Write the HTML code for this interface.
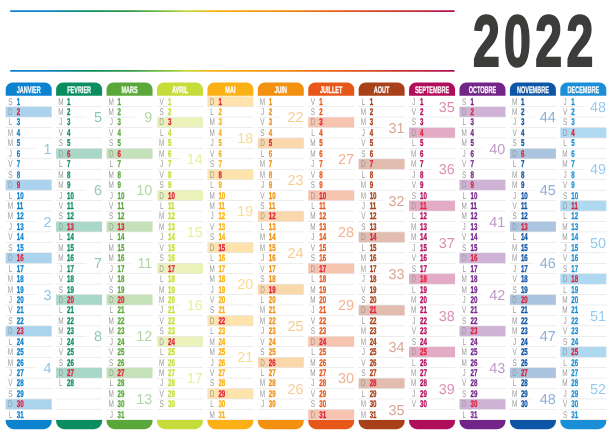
<!DOCTYPE html>
<html lang="fr"><head><meta charset="utf-8"><title>Calendrier 2022</title>
<style>html,body{margin:0;padding:0;background:#fff}svg{display:block;text-rendering:geometricPrecision}.h{font:bold 9.6px "Liberation Sans",sans-serif;fill:#fff;stroke:#fff;stroke-width:0.25px;text-anchor:middle}.l{font:9.7px "Liberation Sans",sans-serif;fill:#9b9b9b;text-anchor:middle}.n{font:bold 9.8px "Liberation Sans",sans-serif;stroke-width:0.3px}.w{font:14.4px "Liberation Sans",sans-serif;text-anchor:end}.y{font:bold 72.5px "Liberation Sans",sans-serif;fill:#3c3c3b;stroke:#3c3c3b;stroke-width:2.2px;stroke-linejoin:miter;text-anchor:middle}</style></head><body>
<svg width="612" height="435" viewBox="0 0 612 435">
<defs><linearGradient id="g" x1="0" y1="0" x2="1" y2="0"><stop offset="0" stop-color="#0d82cf"/><stop offset="0.07" stop-color="#0d82cf"/><stop offset="0.18" stop-color="#0a8e60"/><stop offset="0.27" stop-color="#2f9a48"/><stop offset="0.36" stop-color="#8cc63f"/><stop offset="0.40" stop-color="#c5dc3a"/><stop offset="0.46" stop-color="#fbb015"/><stop offset="0.60" stop-color="#f39010"/><stop offset="0.75" stop-color="#e8571a"/><stop offset="0.87" stop-color="#c93a2a"/><stop offset="1" stop-color="#b00d5a"/></linearGradient><linearGradient id="fw" x1="0" y1="0" x2="1" y2="0"><stop offset="0" stop-color="#fff" stop-opacity="0"/><stop offset="0.35" stop-color="#fff"/><stop offset="1" stop-color="#fff"/></linearGradient></defs>
<rect width="612" height="435" fill="#fff"/>
<rect x="10" y="10.3" width="444.8" height="1.8" rx="0.9" fill="url(#g)"/>
<rect x="10" y="69.9" width="444.8" height="1.8" rx="0.9" fill="url(#g)"/>
<text class="y" transform="translate(0,65.9) scale(0.665,1)"><tspan x="731.43">2</tspan><tspan x="778.2">0</tspan><tspan x="825.11">2</tspan><tspan x="872.18">2</tspan></text>
<path d="M5.7 95.8 V89.4 A7 7 0 0 1 12.7 82.4 H44.7 A7 7 0 0 1 51.7 89.4 V95.8 Z" fill="#0d82cf"/>
<text class="h" transform="translate(28.7,92.7) scale(0.575,1)">JANVIER</text>
<rect x="5.7" y="106.84" width="46" height="10.14" fill="#0d82cf" fill-opacity="0.35"/>
<rect x="5.7" y="179.92" width="46" height="10.14" fill="#0d82cf" fill-opacity="0.35"/>
<rect x="5.7" y="253" width="46" height="10.14" fill="#0d82cf" fill-opacity="0.35"/>
<rect x="5.7" y="326.08" width="46" height="10.14" fill="#0d82cf" fill-opacity="0.35"/>
<rect x="5.7" y="399.16" width="46" height="10.14" fill="#0d82cf" fill-opacity="0.35"/>
<rect x="5.7" y="106.39" width="46" height="0.5" fill="#d9d9d9"/>
<rect x="5.7" y="116.83" width="46" height="0.5" fill="#d9d9d9"/>
<rect x="5.7" y="127.27" width="46" height="0.5" fill="#d9d9d9"/>
<rect x="5.7" y="137.71" width="46" height="0.5" fill="#d9d9d9"/>
<rect x="5.7" y="148.15" width="46" height="0.5" fill="#d9d9d9"/>
<rect x="5.7" y="158.59" width="46" height="0.5" fill="#d9d9d9"/>
<rect x="5.7" y="169.03" width="46" height="0.5" fill="#d9d9d9"/>
<rect x="5.7" y="179.47" width="46" height="0.5" fill="#d9d9d9"/>
<rect x="5.7" y="189.91" width="46" height="0.5" fill="#d9d9d9"/>
<rect x="5.7" y="200.35" width="46" height="0.5" fill="#d9d9d9"/>
<rect x="5.7" y="210.79" width="46" height="0.5" fill="#d9d9d9"/>
<rect x="5.7" y="221.23" width="46" height="0.5" fill="#d9d9d9"/>
<rect x="5.7" y="231.67" width="46" height="0.5" fill="#d9d9d9"/>
<rect x="5.7" y="242.11" width="46" height="0.5" fill="#d9d9d9"/>
<rect x="5.7" y="252.55" width="46" height="0.5" fill="#d9d9d9"/>
<rect x="5.7" y="262.99" width="46" height="0.5" fill="#d9d9d9"/>
<rect x="5.7" y="273.43" width="46" height="0.5" fill="#d9d9d9"/>
<rect x="5.7" y="283.87" width="46" height="0.5" fill="#d9d9d9"/>
<rect x="5.7" y="294.31" width="46" height="0.5" fill="#d9d9d9"/>
<rect x="5.7" y="304.75" width="46" height="0.5" fill="#d9d9d9"/>
<rect x="5.7" y="315.19" width="46" height="0.5" fill="#d9d9d9"/>
<rect x="5.7" y="325.63" width="46" height="0.5" fill="#d9d9d9"/>
<rect x="5.7" y="336.07" width="46" height="0.5" fill="#d9d9d9"/>
<rect x="5.7" y="346.51" width="46" height="0.5" fill="#d9d9d9"/>
<rect x="5.7" y="356.95" width="46" height="0.5" fill="#d9d9d9"/>
<rect x="5.7" y="367.39" width="46" height="0.5" fill="#d9d9d9"/>
<rect x="5.7" y="377.83" width="46" height="0.5" fill="#d9d9d9"/>
<rect x="5.7" y="388.27" width="46" height="0.5" fill="#d9d9d9"/>
<rect x="5.7" y="398.71" width="46" height="0.5" fill="#d9d9d9"/>
<rect x="5.7" y="409.15" width="46" height="0.5" fill="#d9d9d9"/>
<rect x="5.7" y="419.59" width="46" height="0.5" fill="#d9d9d9"/>
<rect x="31.7" y="146.9" width="20" height="3" fill="url(#fw)"/>
<text class="w" x="51.5" y="153.55" fill="#0d82cf" fill-opacity="0.47">1</text>
<rect x="31.7" y="219.98" width="20" height="3" fill="url(#fw)"/>
<text class="w" x="51.5" y="226.63" fill="#0d82cf" fill-opacity="0.47">2</text>
<rect x="31.7" y="293.06" width="20" height="3" fill="url(#fw)"/>
<text class="w" x="51.5" y="299.71" fill="#0d82cf" fill-opacity="0.47">3</text>
<rect x="31.7" y="366.14" width="20" height="3" fill="url(#fw)"/>
<text class="w" x="51.5" y="372.79" fill="#0d82cf" fill-opacity="0.47">4</text>
<text class="l" transform="translate(10.4,104.6) scale(0.66,1)">S</text><text class="n" transform="translate(16.7,104.6) scale(0.63,1)" fill="#0d82cf" stroke="#0d82cf">1</text>
<text class="l" transform="translate(10.4,115.04) scale(0.66,1)">D</text><text class="n" transform="translate(16.7,115.04) scale(0.63,1)" fill="#e0213c" stroke="#e0213c">2</text>
<text class="l" transform="translate(10.4,125.48) scale(0.66,1)">L</text><text class="n" transform="translate(16.7,125.48) scale(0.63,1)" fill="#0d82cf" stroke="#0d82cf">3</text>
<text class="l" transform="translate(10.4,135.92) scale(0.66,1)">M</text><text class="n" transform="translate(16.7,135.92) scale(0.63,1)" fill="#0d82cf" stroke="#0d82cf">4</text>
<text class="l" transform="translate(10.4,146.36) scale(0.66,1)">M</text><text class="n" transform="translate(16.7,146.36) scale(0.63,1)" fill="#0d82cf" stroke="#0d82cf">5</text>
<text class="l" transform="translate(10.4,156.8) scale(0.66,1)">J</text><text class="n" transform="translate(16.7,156.8) scale(0.63,1)" fill="#0d82cf" stroke="#0d82cf">6</text>
<text class="l" transform="translate(10.4,167.24) scale(0.66,1)">V</text><text class="n" transform="translate(16.7,167.24) scale(0.63,1)" fill="#0d82cf" stroke="#0d82cf">7</text>
<text class="l" transform="translate(10.4,177.68) scale(0.66,1)">S</text><text class="n" transform="translate(16.7,177.68) scale(0.63,1)" fill="#0d82cf" stroke="#0d82cf">8</text>
<text class="l" transform="translate(10.4,188.12) scale(0.66,1)">D</text><text class="n" transform="translate(16.7,188.12) scale(0.63,1)" fill="#e0213c" stroke="#e0213c">9</text>
<text class="l" transform="translate(10.4,198.56) scale(0.66,1)">L</text><text class="n" transform="translate(16.7,198.56) scale(0.63,1)" fill="#0d82cf" stroke="#0d82cf">10</text>
<text class="l" transform="translate(10.4,209) scale(0.66,1)">M</text><text class="n" transform="translate(16.7,209) scale(0.63,1)" fill="#0d82cf" stroke="#0d82cf">11</text>
<text class="l" transform="translate(10.4,219.44) scale(0.66,1)">M</text><text class="n" transform="translate(16.7,219.44) scale(0.63,1)" fill="#0d82cf" stroke="#0d82cf">12</text>
<text class="l" transform="translate(10.4,229.88) scale(0.66,1)">J</text><text class="n" transform="translate(16.7,229.88) scale(0.63,1)" fill="#0d82cf" stroke="#0d82cf">13</text>
<text class="l" transform="translate(10.4,240.32) scale(0.66,1)">V</text><text class="n" transform="translate(16.7,240.32) scale(0.63,1)" fill="#0d82cf" stroke="#0d82cf">14</text>
<text class="l" transform="translate(10.4,250.76) scale(0.66,1)">S</text><text class="n" transform="translate(16.7,250.76) scale(0.63,1)" fill="#0d82cf" stroke="#0d82cf">15</text>
<text class="l" transform="translate(10.4,261.2) scale(0.66,1)">D</text><text class="n" transform="translate(16.7,261.2) scale(0.63,1)" fill="#e0213c" stroke="#e0213c">16</text>
<text class="l" transform="translate(10.4,271.64) scale(0.66,1)">L</text><text class="n" transform="translate(16.7,271.64) scale(0.63,1)" fill="#0d82cf" stroke="#0d82cf">17</text>
<text class="l" transform="translate(10.4,282.08) scale(0.66,1)">M</text><text class="n" transform="translate(16.7,282.08) scale(0.63,1)" fill="#0d82cf" stroke="#0d82cf">18</text>
<text class="l" transform="translate(10.4,292.52) scale(0.66,1)">M</text><text class="n" transform="translate(16.7,292.52) scale(0.63,1)" fill="#0d82cf" stroke="#0d82cf">19</text>
<text class="l" transform="translate(10.4,302.96) scale(0.66,1)">J</text><text class="n" transform="translate(16.7,302.96) scale(0.63,1)" fill="#0d82cf" stroke="#0d82cf">20</text>
<text class="l" transform="translate(10.4,313.4) scale(0.66,1)">V</text><text class="n" transform="translate(16.7,313.4) scale(0.63,1)" fill="#0d82cf" stroke="#0d82cf">21</text>
<text class="l" transform="translate(10.4,323.84) scale(0.66,1)">S</text><text class="n" transform="translate(16.7,323.84) scale(0.63,1)" fill="#0d82cf" stroke="#0d82cf">22</text>
<text class="l" transform="translate(10.4,334.28) scale(0.66,1)">D</text><text class="n" transform="translate(16.7,334.28) scale(0.63,1)" fill="#e0213c" stroke="#e0213c">23</text>
<text class="l" transform="translate(10.4,344.72) scale(0.66,1)">L</text><text class="n" transform="translate(16.7,344.72) scale(0.63,1)" fill="#0d82cf" stroke="#0d82cf">24</text>
<text class="l" transform="translate(10.4,355.16) scale(0.66,1)">M</text><text class="n" transform="translate(16.7,355.16) scale(0.63,1)" fill="#0d82cf" stroke="#0d82cf">25</text>
<text class="l" transform="translate(10.4,365.6) scale(0.66,1)">M</text><text class="n" transform="translate(16.7,365.6) scale(0.63,1)" fill="#0d82cf" stroke="#0d82cf">26</text>
<text class="l" transform="translate(10.4,376.04) scale(0.66,1)">J</text><text class="n" transform="translate(16.7,376.04) scale(0.63,1)" fill="#0d82cf" stroke="#0d82cf">27</text>
<text class="l" transform="translate(10.4,386.48) scale(0.66,1)">V</text><text class="n" transform="translate(16.7,386.48) scale(0.63,1)" fill="#0d82cf" stroke="#0d82cf">28</text>
<text class="l" transform="translate(10.4,396.92) scale(0.66,1)">S</text><text class="n" transform="translate(16.7,396.92) scale(0.63,1)" fill="#0d82cf" stroke="#0d82cf">29</text>
<text class="l" transform="translate(10.4,407.36) scale(0.66,1)">D</text><text class="n" transform="translate(16.7,407.36) scale(0.63,1)" fill="#e0213c" stroke="#e0213c">30</text>
<text class="l" transform="translate(10.4,417.8) scale(0.66,1)">L</text><text class="n" transform="translate(16.7,417.8) scale(0.63,1)" fill="#0d82cf" stroke="#0d82cf">31</text>
<path d="M5.7 420 H51.7 V421.2 A8 8 0 0 1 43.7 429.2 H13.7 A8 8 0 0 1 5.7 421.2 Z" fill="#0d82cf"/>
</g>
<path d="M56.12 95.8 V89.4 A7 7 0 0 1 63.12 82.4 H95.12 A7 7 0 0 1 102.12 89.4 V95.8 Z" fill="#0a8e60"/>
<text class="h" transform="translate(79.12,92.7) scale(0.575,1)">FEVRIER</text>
<rect x="56.12" y="148.6" width="46" height="10.14" fill="#0a8e60" fill-opacity="0.35"/>
<rect x="56.12" y="221.68" width="46" height="10.14" fill="#0a8e60" fill-opacity="0.35"/>
<rect x="56.12" y="294.76" width="46" height="10.14" fill="#0a8e60" fill-opacity="0.35"/>
<rect x="56.12" y="367.84" width="46" height="10.14" fill="#0a8e60" fill-opacity="0.35"/>
<rect x="56.12" y="106.39" width="46" height="0.5" fill="#d9d9d9"/>
<rect x="56.12" y="116.83" width="46" height="0.5" fill="#d9d9d9"/>
<rect x="56.12" y="127.27" width="46" height="0.5" fill="#d9d9d9"/>
<rect x="56.12" y="137.71" width="46" height="0.5" fill="#d9d9d9"/>
<rect x="56.12" y="148.15" width="46" height="0.5" fill="#d9d9d9"/>
<rect x="56.12" y="158.59" width="46" height="0.5" fill="#d9d9d9"/>
<rect x="56.12" y="169.03" width="46" height="0.5" fill="#d9d9d9"/>
<rect x="56.12" y="179.47" width="46" height="0.5" fill="#d9d9d9"/>
<rect x="56.12" y="189.91" width="46" height="0.5" fill="#d9d9d9"/>
<rect x="56.12" y="200.35" width="46" height="0.5" fill="#d9d9d9"/>
<rect x="56.12" y="210.79" width="46" height="0.5" fill="#d9d9d9"/>
<rect x="56.12" y="221.23" width="46" height="0.5" fill="#d9d9d9"/>
<rect x="56.12" y="231.67" width="46" height="0.5" fill="#d9d9d9"/>
<rect x="56.12" y="242.11" width="46" height="0.5" fill="#d9d9d9"/>
<rect x="56.12" y="252.55" width="46" height="0.5" fill="#d9d9d9"/>
<rect x="56.12" y="262.99" width="46" height="0.5" fill="#d9d9d9"/>
<rect x="56.12" y="273.43" width="46" height="0.5" fill="#d9d9d9"/>
<rect x="56.12" y="283.87" width="46" height="0.5" fill="#d9d9d9"/>
<rect x="56.12" y="294.31" width="46" height="0.5" fill="#d9d9d9"/>
<rect x="56.12" y="304.75" width="46" height="0.5" fill="#d9d9d9"/>
<rect x="56.12" y="315.19" width="46" height="0.5" fill="#d9d9d9"/>
<rect x="56.12" y="325.63" width="46" height="0.5" fill="#d9d9d9"/>
<rect x="56.12" y="336.07" width="46" height="0.5" fill="#d9d9d9"/>
<rect x="56.12" y="346.51" width="46" height="0.5" fill="#d9d9d9"/>
<rect x="56.12" y="356.95" width="46" height="0.5" fill="#d9d9d9"/>
<rect x="56.12" y="367.39" width="46" height="0.5" fill="#d9d9d9"/>
<rect x="56.12" y="377.83" width="46" height="0.5" fill="#d9d9d9"/>
<rect x="56.12" y="388.27" width="46" height="0.5" fill="#d9d9d9"/>
<rect x="56.12" y="398.71" width="46" height="0.5" fill="#d9d9d9"/>
<rect x="56.12" y="409.15" width="46" height="0.5" fill="#d9d9d9"/>
<rect x="56.12" y="419.59" width="46" height="0.5" fill="#d9d9d9"/>
<rect x="82.12" y="115.58" width="20" height="3" fill="url(#fw)"/>
<text class="w" x="101.92" y="122.23" fill="#0a8e60" fill-opacity="0.47">5</text>
<rect x="82.12" y="188.66" width="20" height="3" fill="url(#fw)"/>
<text class="w" x="101.92" y="195.31" fill="#0a8e60" fill-opacity="0.47">6</text>
<rect x="82.12" y="261.74" width="20" height="3" fill="url(#fw)"/>
<text class="w" x="101.92" y="268.39" fill="#0a8e60" fill-opacity="0.47">7</text>
<rect x="82.12" y="334.82" width="20" height="3" fill="url(#fw)"/>
<text class="w" x="101.92" y="341.47" fill="#0a8e60" fill-opacity="0.47">8</text>
<text class="l" transform="translate(60.82,104.6) scale(0.66,1)">M</text><text class="n" transform="translate(67.12,104.6) scale(0.63,1)" fill="#0a8e60" stroke="#0a8e60">1</text>
<text class="l" transform="translate(60.82,115.04) scale(0.66,1)">M</text><text class="n" transform="translate(67.12,115.04) scale(0.63,1)" fill="#0a8e60" stroke="#0a8e60">2</text>
<text class="l" transform="translate(60.82,125.48) scale(0.66,1)">J</text><text class="n" transform="translate(67.12,125.48) scale(0.63,1)" fill="#0a8e60" stroke="#0a8e60">3</text>
<text class="l" transform="translate(60.82,135.92) scale(0.66,1)">V</text><text class="n" transform="translate(67.12,135.92) scale(0.63,1)" fill="#0a8e60" stroke="#0a8e60">4</text>
<text class="l" transform="translate(60.82,146.36) scale(0.66,1)">S</text><text class="n" transform="translate(67.12,146.36) scale(0.63,1)" fill="#0a8e60" stroke="#0a8e60">5</text>
<text class="l" transform="translate(60.82,156.8) scale(0.66,1)">D</text><text class="n" transform="translate(67.12,156.8) scale(0.63,1)" fill="#e0213c" stroke="#e0213c">6</text>
<text class="l" transform="translate(60.82,167.24) scale(0.66,1)">L</text><text class="n" transform="translate(67.12,167.24) scale(0.63,1)" fill="#0a8e60" stroke="#0a8e60">7</text>
<text class="l" transform="translate(60.82,177.68) scale(0.66,1)">M</text><text class="n" transform="translate(67.12,177.68) scale(0.63,1)" fill="#0a8e60" stroke="#0a8e60">8</text>
<text class="l" transform="translate(60.82,188.12) scale(0.66,1)">M</text><text class="n" transform="translate(67.12,188.12) scale(0.63,1)" fill="#0a8e60" stroke="#0a8e60">9</text>
<text class="l" transform="translate(60.82,198.56) scale(0.66,1)">J</text><text class="n" transform="translate(67.12,198.56) scale(0.63,1)" fill="#0a8e60" stroke="#0a8e60">10</text>
<text class="l" transform="translate(60.82,209) scale(0.66,1)">V</text><text class="n" transform="translate(67.12,209) scale(0.63,1)" fill="#0a8e60" stroke="#0a8e60">11</text>
<text class="l" transform="translate(60.82,219.44) scale(0.66,1)">S</text><text class="n" transform="translate(67.12,219.44) scale(0.63,1)" fill="#0a8e60" stroke="#0a8e60">12</text>
<text class="l" transform="translate(60.82,229.88) scale(0.66,1)">D</text><text class="n" transform="translate(67.12,229.88) scale(0.63,1)" fill="#e0213c" stroke="#e0213c">13</text>
<text class="l" transform="translate(60.82,240.32) scale(0.66,1)">L</text><text class="n" transform="translate(67.12,240.32) scale(0.63,1)" fill="#0a8e60" stroke="#0a8e60">14</text>
<text class="l" transform="translate(60.82,250.76) scale(0.66,1)">M</text><text class="n" transform="translate(67.12,250.76) scale(0.63,1)" fill="#0a8e60" stroke="#0a8e60">15</text>
<text class="l" transform="translate(60.82,261.2) scale(0.66,1)">M</text><text class="n" transform="translate(67.12,261.2) scale(0.63,1)" fill="#0a8e60" stroke="#0a8e60">16</text>
<text class="l" transform="translate(60.82,271.64) scale(0.66,1)">J</text><text class="n" transform="translate(67.12,271.64) scale(0.63,1)" fill="#0a8e60" stroke="#0a8e60">17</text>
<text class="l" transform="translate(60.82,282.08) scale(0.66,1)">V</text><text class="n" transform="translate(67.12,282.08) scale(0.63,1)" fill="#0a8e60" stroke="#0a8e60">18</text>
<text class="l" transform="translate(60.82,292.52) scale(0.66,1)">S</text><text class="n" transform="translate(67.12,292.52) scale(0.63,1)" fill="#0a8e60" stroke="#0a8e60">19</text>
<text class="l" transform="translate(60.82,302.96) scale(0.66,1)">D</text><text class="n" transform="translate(67.12,302.96) scale(0.63,1)" fill="#e0213c" stroke="#e0213c">20</text>
<text class="l" transform="translate(60.82,313.4) scale(0.66,1)">L</text><text class="n" transform="translate(67.12,313.4) scale(0.63,1)" fill="#0a8e60" stroke="#0a8e60">21</text>
<text class="l" transform="translate(60.82,323.84) scale(0.66,1)">M</text><text class="n" transform="translate(67.12,323.84) scale(0.63,1)" fill="#0a8e60" stroke="#0a8e60">22</text>
<text class="l" transform="translate(60.82,334.28) scale(0.66,1)">M</text><text class="n" transform="translate(67.12,334.28) scale(0.63,1)" fill="#0a8e60" stroke="#0a8e60">23</text>
<text class="l" transform="translate(60.82,344.72) scale(0.66,1)">J</text><text class="n" transform="translate(67.12,344.72) scale(0.63,1)" fill="#0a8e60" stroke="#0a8e60">24</text>
<text class="l" transform="translate(60.82,355.16) scale(0.66,1)">V</text><text class="n" transform="translate(67.12,355.16) scale(0.63,1)" fill="#0a8e60" stroke="#0a8e60">25</text>
<text class="l" transform="translate(60.82,365.6) scale(0.66,1)">S</text><text class="n" transform="translate(67.12,365.6) scale(0.63,1)" fill="#0a8e60" stroke="#0a8e60">26</text>
<text class="l" transform="translate(60.82,376.04) scale(0.66,1)">D</text><text class="n" transform="translate(67.12,376.04) scale(0.63,1)" fill="#e0213c" stroke="#e0213c">27</text>
<text class="l" transform="translate(60.82,386.48) scale(0.66,1)">L</text><text class="n" transform="translate(67.12,386.48) scale(0.63,1)" fill="#0a8e60" stroke="#0a8e60">28</text>
<path d="M56.12 420 H102.12 V421.2 A8 8 0 0 1 94.12 429.2 H64.12 A8 8 0 0 1 56.12 421.2 Z" fill="#0a8e60"/>
</g>
<path d="M106.54 95.8 V89.4 A7 7 0 0 1 113.54 82.4 H145.54 A7 7 0 0 1 152.54 89.4 V95.8 Z" fill="#5aa83a"/>
<text class="h" transform="translate(129.54,92.7) scale(0.575,1)">MARS</text>
<rect x="106.54" y="148.6" width="46" height="10.14" fill="#5aa83a" fill-opacity="0.35"/>
<rect x="106.54" y="221.68" width="46" height="10.14" fill="#5aa83a" fill-opacity="0.35"/>
<rect x="106.54" y="294.76" width="46" height="10.14" fill="#5aa83a" fill-opacity="0.35"/>
<rect x="106.54" y="367.84" width="46" height="10.14" fill="#5aa83a" fill-opacity="0.35"/>
<rect x="106.54" y="106.39" width="46" height="0.5" fill="#d9d9d9"/>
<rect x="106.54" y="116.83" width="46" height="0.5" fill="#d9d9d9"/>
<rect x="106.54" y="127.27" width="46" height="0.5" fill="#d9d9d9"/>
<rect x="106.54" y="137.71" width="46" height="0.5" fill="#d9d9d9"/>
<rect x="106.54" y="148.15" width="46" height="0.5" fill="#d9d9d9"/>
<rect x="106.54" y="158.59" width="46" height="0.5" fill="#d9d9d9"/>
<rect x="106.54" y="169.03" width="46" height="0.5" fill="#d9d9d9"/>
<rect x="106.54" y="179.47" width="46" height="0.5" fill="#d9d9d9"/>
<rect x="106.54" y="189.91" width="46" height="0.5" fill="#d9d9d9"/>
<rect x="106.54" y="200.35" width="46" height="0.5" fill="#d9d9d9"/>
<rect x="106.54" y="210.79" width="46" height="0.5" fill="#d9d9d9"/>
<rect x="106.54" y="221.23" width="46" height="0.5" fill="#d9d9d9"/>
<rect x="106.54" y="231.67" width="46" height="0.5" fill="#d9d9d9"/>
<rect x="106.54" y="242.11" width="46" height="0.5" fill="#d9d9d9"/>
<rect x="106.54" y="252.55" width="46" height="0.5" fill="#d9d9d9"/>
<rect x="106.54" y="262.99" width="46" height="0.5" fill="#d9d9d9"/>
<rect x="106.54" y="273.43" width="46" height="0.5" fill="#d9d9d9"/>
<rect x="106.54" y="283.87" width="46" height="0.5" fill="#d9d9d9"/>
<rect x="106.54" y="294.31" width="46" height="0.5" fill="#d9d9d9"/>
<rect x="106.54" y="304.75" width="46" height="0.5" fill="#d9d9d9"/>
<rect x="106.54" y="315.19" width="46" height="0.5" fill="#d9d9d9"/>
<rect x="106.54" y="325.63" width="46" height="0.5" fill="#d9d9d9"/>
<rect x="106.54" y="336.07" width="46" height="0.5" fill="#d9d9d9"/>
<rect x="106.54" y="346.51" width="46" height="0.5" fill="#d9d9d9"/>
<rect x="106.54" y="356.95" width="46" height="0.5" fill="#d9d9d9"/>
<rect x="106.54" y="367.39" width="46" height="0.5" fill="#d9d9d9"/>
<rect x="106.54" y="377.83" width="46" height="0.5" fill="#d9d9d9"/>
<rect x="106.54" y="388.27" width="46" height="0.5" fill="#d9d9d9"/>
<rect x="106.54" y="398.71" width="46" height="0.5" fill="#d9d9d9"/>
<rect x="106.54" y="409.15" width="46" height="0.5" fill="#d9d9d9"/>
<rect x="106.54" y="419.59" width="46" height="0.5" fill="#d9d9d9"/>
<rect x="132.54" y="115.58" width="20" height="3" fill="url(#fw)"/>
<text class="w" x="152.34" y="122.23" fill="#5aa83a" fill-opacity="0.47">9</text>
<rect x="124.54" y="188.66" width="28" height="3" fill="url(#fw)"/>
<text class="w" x="152.34" y="195.31" fill="#5aa83a" fill-opacity="0.47">10</text>
<rect x="124.54" y="261.74" width="28" height="3" fill="url(#fw)"/>
<text class="w" x="152.34" y="268.39" fill="#5aa83a" fill-opacity="0.47">11</text>
<rect x="124.54" y="334.82" width="28" height="3" fill="url(#fw)"/>
<text class="w" x="152.34" y="341.47" fill="#5aa83a" fill-opacity="0.47">12</text>
<rect x="124.54" y="397.46" width="28" height="3" fill="url(#fw)"/>
<text class="w" x="152.34" y="404.11" fill="#5aa83a" fill-opacity="0.47">13</text>
<text class="l" transform="translate(111.24,104.6) scale(0.66,1)">M</text><text class="n" transform="translate(117.54,104.6) scale(0.63,1)" fill="#5aa83a" stroke="#5aa83a">1</text>
<text class="l" transform="translate(111.24,115.04) scale(0.66,1)">M</text><text class="n" transform="translate(117.54,115.04) scale(0.63,1)" fill="#5aa83a" stroke="#5aa83a">2</text>
<text class="l" transform="translate(111.24,125.48) scale(0.66,1)">J</text><text class="n" transform="translate(117.54,125.48) scale(0.63,1)" fill="#5aa83a" stroke="#5aa83a">3</text>
<text class="l" transform="translate(111.24,135.92) scale(0.66,1)">V</text><text class="n" transform="translate(117.54,135.92) scale(0.63,1)" fill="#5aa83a" stroke="#5aa83a">4</text>
<text class="l" transform="translate(111.24,146.36) scale(0.66,1)">S</text><text class="n" transform="translate(117.54,146.36) scale(0.63,1)" fill="#5aa83a" stroke="#5aa83a">5</text>
<text class="l" transform="translate(111.24,156.8) scale(0.66,1)">D</text><text class="n" transform="translate(117.54,156.8) scale(0.63,1)" fill="#e0213c" stroke="#e0213c">6</text>
<text class="l" transform="translate(111.24,167.24) scale(0.66,1)">L</text><text class="n" transform="translate(117.54,167.24) scale(0.63,1)" fill="#5aa83a" stroke="#5aa83a">7</text>
<text class="l" transform="translate(111.24,177.68) scale(0.66,1)">M</text><text class="n" transform="translate(117.54,177.68) scale(0.63,1)" fill="#5aa83a" stroke="#5aa83a">8</text>
<text class="l" transform="translate(111.24,188.12) scale(0.66,1)">M</text><text class="n" transform="translate(117.54,188.12) scale(0.63,1)" fill="#5aa83a" stroke="#5aa83a">9</text>
<text class="l" transform="translate(111.24,198.56) scale(0.66,1)">J</text><text class="n" transform="translate(117.54,198.56) scale(0.63,1)" fill="#5aa83a" stroke="#5aa83a">10</text>
<text class="l" transform="translate(111.24,209) scale(0.66,1)">V</text><text class="n" transform="translate(117.54,209) scale(0.63,1)" fill="#5aa83a" stroke="#5aa83a">11</text>
<text class="l" transform="translate(111.24,219.44) scale(0.66,1)">S</text><text class="n" transform="translate(117.54,219.44) scale(0.63,1)" fill="#5aa83a" stroke="#5aa83a">12</text>
<text class="l" transform="translate(111.24,229.88) scale(0.66,1)">D</text><text class="n" transform="translate(117.54,229.88) scale(0.63,1)" fill="#e0213c" stroke="#e0213c">13</text>
<text class="l" transform="translate(111.24,240.32) scale(0.66,1)">L</text><text class="n" transform="translate(117.54,240.32) scale(0.63,1)" fill="#5aa83a" stroke="#5aa83a">14</text>
<text class="l" transform="translate(111.24,250.76) scale(0.66,1)">M</text><text class="n" transform="translate(117.54,250.76) scale(0.63,1)" fill="#5aa83a" stroke="#5aa83a">15</text>
<text class="l" transform="translate(111.24,261.2) scale(0.66,1)">M</text><text class="n" transform="translate(117.54,261.2) scale(0.63,1)" fill="#5aa83a" stroke="#5aa83a">16</text>
<text class="l" transform="translate(111.24,271.64) scale(0.66,1)">J</text><text class="n" transform="translate(117.54,271.64) scale(0.63,1)" fill="#5aa83a" stroke="#5aa83a">17</text>
<text class="l" transform="translate(111.24,282.08) scale(0.66,1)">V</text><text class="n" transform="translate(117.54,282.08) scale(0.63,1)" fill="#5aa83a" stroke="#5aa83a">18</text>
<text class="l" transform="translate(111.24,292.52) scale(0.66,1)">S</text><text class="n" transform="translate(117.54,292.52) scale(0.63,1)" fill="#5aa83a" stroke="#5aa83a">19</text>
<text class="l" transform="translate(111.24,302.96) scale(0.66,1)">D</text><text class="n" transform="translate(117.54,302.96) scale(0.63,1)" fill="#e0213c" stroke="#e0213c">20</text>
<text class="l" transform="translate(111.24,313.4) scale(0.66,1)">L</text><text class="n" transform="translate(117.54,313.4) scale(0.63,1)" fill="#5aa83a" stroke="#5aa83a">21</text>
<text class="l" transform="translate(111.24,323.84) scale(0.66,1)">M</text><text class="n" transform="translate(117.54,323.84) scale(0.63,1)" fill="#5aa83a" stroke="#5aa83a">22</text>
<text class="l" transform="translate(111.24,334.28) scale(0.66,1)">M</text><text class="n" transform="translate(117.54,334.28) scale(0.63,1)" fill="#5aa83a" stroke="#5aa83a">23</text>
<text class="l" transform="translate(111.24,344.72) scale(0.66,1)">J</text><text class="n" transform="translate(117.54,344.72) scale(0.63,1)" fill="#5aa83a" stroke="#5aa83a">24</text>
<text class="l" transform="translate(111.24,355.16) scale(0.66,1)">V</text><text class="n" transform="translate(117.54,355.16) scale(0.63,1)" fill="#5aa83a" stroke="#5aa83a">25</text>
<text class="l" transform="translate(111.24,365.6) scale(0.66,1)">S</text><text class="n" transform="translate(117.54,365.6) scale(0.63,1)" fill="#5aa83a" stroke="#5aa83a">26</text>
<text class="l" transform="translate(111.24,376.04) scale(0.66,1)">D</text><text class="n" transform="translate(117.54,376.04) scale(0.63,1)" fill="#e0213c" stroke="#e0213c">27</text>
<text class="l" transform="translate(111.24,386.48) scale(0.66,1)">L</text><text class="n" transform="translate(117.54,386.48) scale(0.63,1)" fill="#5aa83a" stroke="#5aa83a">28</text>
<text class="l" transform="translate(111.24,396.92) scale(0.66,1)">M</text><text class="n" transform="translate(117.54,396.92) scale(0.63,1)" fill="#5aa83a" stroke="#5aa83a">29</text>
<text class="l" transform="translate(111.24,407.36) scale(0.66,1)">M</text><text class="n" transform="translate(117.54,407.36) scale(0.63,1)" fill="#5aa83a" stroke="#5aa83a">30</text>
<text class="l" transform="translate(111.24,417.8) scale(0.66,1)">J</text><text class="n" transform="translate(117.54,417.8) scale(0.63,1)" fill="#5aa83a" stroke="#5aa83a">31</text>
<path d="M106.54 420 H152.54 V421.2 A8 8 0 0 1 144.54 429.2 H114.54 A8 8 0 0 1 106.54 421.2 Z" fill="#5aa83a"/>
</g>
<path d="M156.96 95.8 V89.4 A7 7 0 0 1 163.96 82.4 H195.96 A7 7 0 0 1 202.96 89.4 V95.8 Z" fill="#c5dc3a"/>
<text class="h" transform="translate(179.96,92.7) scale(0.575,1)">AVRIL</text>
<rect x="156.96" y="117.28" width="46" height="10.14" fill="#c5dc3a" fill-opacity="0.35"/>
<rect x="156.96" y="190.36" width="46" height="10.14" fill="#c5dc3a" fill-opacity="0.35"/>
<rect x="156.96" y="263.44" width="46" height="10.14" fill="#c5dc3a" fill-opacity="0.35"/>
<rect x="156.96" y="336.52" width="46" height="10.14" fill="#c5dc3a" fill-opacity="0.35"/>
<rect x="156.96" y="106.39" width="46" height="0.5" fill="#d9d9d9"/>
<rect x="156.96" y="116.83" width="46" height="0.5" fill="#d9d9d9"/>
<rect x="156.96" y="127.27" width="46" height="0.5" fill="#d9d9d9"/>
<rect x="156.96" y="137.71" width="46" height="0.5" fill="#d9d9d9"/>
<rect x="156.96" y="148.15" width="46" height="0.5" fill="#d9d9d9"/>
<rect x="156.96" y="158.59" width="46" height="0.5" fill="#d9d9d9"/>
<rect x="156.96" y="169.03" width="46" height="0.5" fill="#d9d9d9"/>
<rect x="156.96" y="179.47" width="46" height="0.5" fill="#d9d9d9"/>
<rect x="156.96" y="189.91" width="46" height="0.5" fill="#d9d9d9"/>
<rect x="156.96" y="200.35" width="46" height="0.5" fill="#d9d9d9"/>
<rect x="156.96" y="210.79" width="46" height="0.5" fill="#d9d9d9"/>
<rect x="156.96" y="221.23" width="46" height="0.5" fill="#d9d9d9"/>
<rect x="156.96" y="231.67" width="46" height="0.5" fill="#d9d9d9"/>
<rect x="156.96" y="242.11" width="46" height="0.5" fill="#d9d9d9"/>
<rect x="156.96" y="252.55" width="46" height="0.5" fill="#d9d9d9"/>
<rect x="156.96" y="262.99" width="46" height="0.5" fill="#d9d9d9"/>
<rect x="156.96" y="273.43" width="46" height="0.5" fill="#d9d9d9"/>
<rect x="156.96" y="283.87" width="46" height="0.5" fill="#d9d9d9"/>
<rect x="156.96" y="294.31" width="46" height="0.5" fill="#d9d9d9"/>
<rect x="156.96" y="304.75" width="46" height="0.5" fill="#d9d9d9"/>
<rect x="156.96" y="315.19" width="46" height="0.5" fill="#d9d9d9"/>
<rect x="156.96" y="325.63" width="46" height="0.5" fill="#d9d9d9"/>
<rect x="156.96" y="336.07" width="46" height="0.5" fill="#d9d9d9"/>
<rect x="156.96" y="346.51" width="46" height="0.5" fill="#d9d9d9"/>
<rect x="156.96" y="356.95" width="46" height="0.5" fill="#d9d9d9"/>
<rect x="156.96" y="367.39" width="46" height="0.5" fill="#d9d9d9"/>
<rect x="156.96" y="377.83" width="46" height="0.5" fill="#d9d9d9"/>
<rect x="156.96" y="388.27" width="46" height="0.5" fill="#d9d9d9"/>
<rect x="156.96" y="398.71" width="46" height="0.5" fill="#d9d9d9"/>
<rect x="156.96" y="409.15" width="46" height="0.5" fill="#d9d9d9"/>
<rect x="156.96" y="419.59" width="46" height="0.5" fill="#d9d9d9"/>
<rect x="174.96" y="157.34" width="28" height="3" fill="url(#fw)"/>
<text class="w" x="202.76" y="163.99" fill="#c5dc3a" fill-opacity="0.47">14</text>
<rect x="174.96" y="230.42" width="28" height="3" fill="url(#fw)"/>
<text class="w" x="202.76" y="237.07" fill="#c5dc3a" fill-opacity="0.47">15</text>
<rect x="174.96" y="303.5" width="28" height="3" fill="url(#fw)"/>
<text class="w" x="202.76" y="310.15" fill="#c5dc3a" fill-opacity="0.47">16</text>
<rect x="174.96" y="376.58" width="28" height="3" fill="url(#fw)"/>
<text class="w" x="202.76" y="383.23" fill="#c5dc3a" fill-opacity="0.47">17</text>
<text class="l" transform="translate(161.66,104.6) scale(0.66,1)">V</text><text class="n" transform="translate(167.96,104.6) scale(0.63,1)" fill="#c5dc3a" stroke="#c5dc3a">1</text>
<text class="l" transform="translate(161.66,115.04) scale(0.66,1)">S</text><text class="n" transform="translate(167.96,115.04) scale(0.63,1)" fill="#c5dc3a" stroke="#c5dc3a">2</text>
<text class="l" transform="translate(161.66,125.48) scale(0.66,1)">D</text><text class="n" transform="translate(167.96,125.48) scale(0.63,1)" fill="#e0213c" stroke="#e0213c">3</text>
<text class="l" transform="translate(161.66,135.92) scale(0.66,1)">L</text><text class="n" transform="translate(167.96,135.92) scale(0.63,1)" fill="#c5dc3a" stroke="#c5dc3a">4</text>
<text class="l" transform="translate(161.66,146.36) scale(0.66,1)">M</text><text class="n" transform="translate(167.96,146.36) scale(0.63,1)" fill="#c5dc3a" stroke="#c5dc3a">5</text>
<text class="l" transform="translate(161.66,156.8) scale(0.66,1)">M</text><text class="n" transform="translate(167.96,156.8) scale(0.63,1)" fill="#c5dc3a" stroke="#c5dc3a">6</text>
<text class="l" transform="translate(161.66,167.24) scale(0.66,1)">J</text><text class="n" transform="translate(167.96,167.24) scale(0.63,1)" fill="#c5dc3a" stroke="#c5dc3a">7</text>
<text class="l" transform="translate(161.66,177.68) scale(0.66,1)">V</text><text class="n" transform="translate(167.96,177.68) scale(0.63,1)" fill="#c5dc3a" stroke="#c5dc3a">8</text>
<text class="l" transform="translate(161.66,188.12) scale(0.66,1)">S</text><text class="n" transform="translate(167.96,188.12) scale(0.63,1)" fill="#c5dc3a" stroke="#c5dc3a">9</text>
<text class="l" transform="translate(161.66,198.56) scale(0.66,1)">D</text><text class="n" transform="translate(167.96,198.56) scale(0.63,1)" fill="#e0213c" stroke="#e0213c">10</text>
<text class="l" transform="translate(161.66,209) scale(0.66,1)">L</text><text class="n" transform="translate(167.96,209) scale(0.63,1)" fill="#c5dc3a" stroke="#c5dc3a">11</text>
<text class="l" transform="translate(161.66,219.44) scale(0.66,1)">M</text><text class="n" transform="translate(167.96,219.44) scale(0.63,1)" fill="#c5dc3a" stroke="#c5dc3a">12</text>
<text class="l" transform="translate(161.66,229.88) scale(0.66,1)">M</text><text class="n" transform="translate(167.96,229.88) scale(0.63,1)" fill="#c5dc3a" stroke="#c5dc3a">13</text>
<text class="l" transform="translate(161.66,240.32) scale(0.66,1)">J</text><text class="n" transform="translate(167.96,240.32) scale(0.63,1)" fill="#c5dc3a" stroke="#c5dc3a">14</text>
<text class="l" transform="translate(161.66,250.76) scale(0.66,1)">V</text><text class="n" transform="translate(167.96,250.76) scale(0.63,1)" fill="#c5dc3a" stroke="#c5dc3a">15</text>
<text class="l" transform="translate(161.66,261.2) scale(0.66,1)">S</text><text class="n" transform="translate(167.96,261.2) scale(0.63,1)" fill="#c5dc3a" stroke="#c5dc3a">16</text>
<text class="l" transform="translate(161.66,271.64) scale(0.66,1)">D</text><text class="n" transform="translate(167.96,271.64) scale(0.63,1)" fill="#e0213c" stroke="#e0213c">17</text>
<text class="l" transform="translate(161.66,282.08) scale(0.66,1)">L</text><text class="n" transform="translate(167.96,282.08) scale(0.63,1)" fill="#c5dc3a" stroke="#c5dc3a">18</text>
<text class="l" transform="translate(161.66,292.52) scale(0.66,1)">M</text><text class="n" transform="translate(167.96,292.52) scale(0.63,1)" fill="#c5dc3a" stroke="#c5dc3a">19</text>
<text class="l" transform="translate(161.66,302.96) scale(0.66,1)">M</text><text class="n" transform="translate(167.96,302.96) scale(0.63,1)" fill="#c5dc3a" stroke="#c5dc3a">20</text>
<text class="l" transform="translate(161.66,313.4) scale(0.66,1)">J</text><text class="n" transform="translate(167.96,313.4) scale(0.63,1)" fill="#c5dc3a" stroke="#c5dc3a">21</text>
<text class="l" transform="translate(161.66,323.84) scale(0.66,1)">V</text><text class="n" transform="translate(167.96,323.84) scale(0.63,1)" fill="#c5dc3a" stroke="#c5dc3a">22</text>
<text class="l" transform="translate(161.66,334.28) scale(0.66,1)">S</text><text class="n" transform="translate(167.96,334.28) scale(0.63,1)" fill="#c5dc3a" stroke="#c5dc3a">23</text>
<text class="l" transform="translate(161.66,344.72) scale(0.66,1)">D</text><text class="n" transform="translate(167.96,344.72) scale(0.63,1)" fill="#e0213c" stroke="#e0213c">24</text>
<text class="l" transform="translate(161.66,355.16) scale(0.66,1)">L</text><text class="n" transform="translate(167.96,355.16) scale(0.63,1)" fill="#c5dc3a" stroke="#c5dc3a">25</text>
<text class="l" transform="translate(161.66,365.6) scale(0.66,1)">M</text><text class="n" transform="translate(167.96,365.6) scale(0.63,1)" fill="#c5dc3a" stroke="#c5dc3a">26</text>
<text class="l" transform="translate(161.66,376.04) scale(0.66,1)">M</text><text class="n" transform="translate(167.96,376.04) scale(0.63,1)" fill="#c5dc3a" stroke="#c5dc3a">27</text>
<text class="l" transform="translate(161.66,386.48) scale(0.66,1)">J</text><text class="n" transform="translate(167.96,386.48) scale(0.63,1)" fill="#c5dc3a" stroke="#c5dc3a">28</text>
<text class="l" transform="translate(161.66,396.92) scale(0.66,1)">V</text><text class="n" transform="translate(167.96,396.92) scale(0.63,1)" fill="#c5dc3a" stroke="#c5dc3a">29</text>
<text class="l" transform="translate(161.66,407.36) scale(0.66,1)">S</text><text class="n" transform="translate(167.96,407.36) scale(0.63,1)" fill="#c5dc3a" stroke="#c5dc3a">30</text>
<path d="M156.96 420 H202.96 V421.2 A8 8 0 0 1 194.96 429.2 H164.96 A8 8 0 0 1 156.96 421.2 Z" fill="#c5dc3a"/>
</g>
<path d="M207.38 95.8 V89.4 A7 7 0 0 1 214.38 82.4 H246.38 A7 7 0 0 1 253.38 89.4 V95.8 Z" fill="#fbb015"/>
<text class="h" transform="translate(230.38,92.7) scale(0.575,1)">MAI</text>
<rect x="207.38" y="96.4" width="46" height="10.14" fill="#fbb015" fill-opacity="0.35"/>
<rect x="207.38" y="169.48" width="46" height="10.14" fill="#fbb015" fill-opacity="0.35"/>
<rect x="207.38" y="242.56" width="46" height="10.14" fill="#fbb015" fill-opacity="0.35"/>
<rect x="207.38" y="315.64" width="46" height="10.14" fill="#fbb015" fill-opacity="0.35"/>
<rect x="207.38" y="388.72" width="46" height="10.14" fill="#fbb015" fill-opacity="0.35"/>
<rect x="207.38" y="106.39" width="46" height="0.5" fill="#d9d9d9"/>
<rect x="207.38" y="116.83" width="46" height="0.5" fill="#d9d9d9"/>
<rect x="207.38" y="127.27" width="46" height="0.5" fill="#d9d9d9"/>
<rect x="207.38" y="137.71" width="46" height="0.5" fill="#d9d9d9"/>
<rect x="207.38" y="148.15" width="46" height="0.5" fill="#d9d9d9"/>
<rect x="207.38" y="158.59" width="46" height="0.5" fill="#d9d9d9"/>
<rect x="207.38" y="169.03" width="46" height="0.5" fill="#d9d9d9"/>
<rect x="207.38" y="179.47" width="46" height="0.5" fill="#d9d9d9"/>
<rect x="207.38" y="189.91" width="46" height="0.5" fill="#d9d9d9"/>
<rect x="207.38" y="200.35" width="46" height="0.5" fill="#d9d9d9"/>
<rect x="207.38" y="210.79" width="46" height="0.5" fill="#d9d9d9"/>
<rect x="207.38" y="221.23" width="46" height="0.5" fill="#d9d9d9"/>
<rect x="207.38" y="231.67" width="46" height="0.5" fill="#d9d9d9"/>
<rect x="207.38" y="242.11" width="46" height="0.5" fill="#d9d9d9"/>
<rect x="207.38" y="252.55" width="46" height="0.5" fill="#d9d9d9"/>
<rect x="207.38" y="262.99" width="46" height="0.5" fill="#d9d9d9"/>
<rect x="207.38" y="273.43" width="46" height="0.5" fill="#d9d9d9"/>
<rect x="207.38" y="283.87" width="46" height="0.5" fill="#d9d9d9"/>
<rect x="207.38" y="294.31" width="46" height="0.5" fill="#d9d9d9"/>
<rect x="207.38" y="304.75" width="46" height="0.5" fill="#d9d9d9"/>
<rect x="207.38" y="315.19" width="46" height="0.5" fill="#d9d9d9"/>
<rect x="207.38" y="325.63" width="46" height="0.5" fill="#d9d9d9"/>
<rect x="207.38" y="336.07" width="46" height="0.5" fill="#d9d9d9"/>
<rect x="207.38" y="346.51" width="46" height="0.5" fill="#d9d9d9"/>
<rect x="207.38" y="356.95" width="46" height="0.5" fill="#d9d9d9"/>
<rect x="207.38" y="367.39" width="46" height="0.5" fill="#d9d9d9"/>
<rect x="207.38" y="377.83" width="46" height="0.5" fill="#d9d9d9"/>
<rect x="207.38" y="388.27" width="46" height="0.5" fill="#d9d9d9"/>
<rect x="207.38" y="398.71" width="46" height="0.5" fill="#d9d9d9"/>
<rect x="207.38" y="409.15" width="46" height="0.5" fill="#d9d9d9"/>
<rect x="207.38" y="419.59" width="46" height="0.5" fill="#d9d9d9"/>
<rect x="225.38" y="136.46" width="28" height="3" fill="url(#fw)"/>
<text class="w" x="253.18" y="143.11" fill="#fbb015" fill-opacity="0.47">18</text>
<rect x="225.38" y="209.54" width="28" height="3" fill="url(#fw)"/>
<text class="w" x="253.18" y="216.19" fill="#fbb015" fill-opacity="0.47">19</text>
<rect x="225.38" y="282.62" width="28" height="3" fill="url(#fw)"/>
<text class="w" x="253.18" y="289.27" fill="#fbb015" fill-opacity="0.47">20</text>
<rect x="225.38" y="355.7" width="28" height="3" fill="url(#fw)"/>
<text class="w" x="253.18" y="362.35" fill="#fbb015" fill-opacity="0.47">21</text>
<text class="l" transform="translate(212.08,104.6) scale(0.66,1)">D</text><text class="n" transform="translate(218.38,104.6) scale(0.63,1)" fill="#e0213c" stroke="#e0213c">1</text>
<text class="l" transform="translate(212.08,115.04) scale(0.66,1)">L</text><text class="n" transform="translate(218.38,115.04) scale(0.63,1)" fill="#fbb015" stroke="#fbb015">2</text>
<text class="l" transform="translate(212.08,125.48) scale(0.66,1)">M</text><text class="n" transform="translate(218.38,125.48) scale(0.63,1)" fill="#fbb015" stroke="#fbb015">3</text>
<text class="l" transform="translate(212.08,135.92) scale(0.66,1)">M</text><text class="n" transform="translate(218.38,135.92) scale(0.63,1)" fill="#fbb015" stroke="#fbb015">4</text>
<text class="l" transform="translate(212.08,146.36) scale(0.66,1)">J</text><text class="n" transform="translate(218.38,146.36) scale(0.63,1)" fill="#fbb015" stroke="#fbb015">5</text>
<text class="l" transform="translate(212.08,156.8) scale(0.66,1)">V</text><text class="n" transform="translate(218.38,156.8) scale(0.63,1)" fill="#fbb015" stroke="#fbb015">6</text>
<text class="l" transform="translate(212.08,167.24) scale(0.66,1)">S</text><text class="n" transform="translate(218.38,167.24) scale(0.63,1)" fill="#fbb015" stroke="#fbb015">7</text>
<text class="l" transform="translate(212.08,177.68) scale(0.66,1)">D</text><text class="n" transform="translate(218.38,177.68) scale(0.63,1)" fill="#e0213c" stroke="#e0213c">8</text>
<text class="l" transform="translate(212.08,188.12) scale(0.66,1)">L</text><text class="n" transform="translate(218.38,188.12) scale(0.63,1)" fill="#fbb015" stroke="#fbb015">9</text>
<text class="l" transform="translate(212.08,198.56) scale(0.66,1)">M</text><text class="n" transform="translate(218.38,198.56) scale(0.63,1)" fill="#fbb015" stroke="#fbb015">10</text>
<text class="l" transform="translate(212.08,209) scale(0.66,1)">M</text><text class="n" transform="translate(218.38,209) scale(0.63,1)" fill="#fbb015" stroke="#fbb015">11</text>
<text class="l" transform="translate(212.08,219.44) scale(0.66,1)">J</text><text class="n" transform="translate(218.38,219.44) scale(0.63,1)" fill="#fbb015" stroke="#fbb015">12</text>
<text class="l" transform="translate(212.08,229.88) scale(0.66,1)">V</text><text class="n" transform="translate(218.38,229.88) scale(0.63,1)" fill="#fbb015" stroke="#fbb015">13</text>
<text class="l" transform="translate(212.08,240.32) scale(0.66,1)">S</text><text class="n" transform="translate(218.38,240.32) scale(0.63,1)" fill="#fbb015" stroke="#fbb015">14</text>
<text class="l" transform="translate(212.08,250.76) scale(0.66,1)">D</text><text class="n" transform="translate(218.38,250.76) scale(0.63,1)" fill="#e0213c" stroke="#e0213c">15</text>
<text class="l" transform="translate(212.08,261.2) scale(0.66,1)">L</text><text class="n" transform="translate(218.38,261.2) scale(0.63,1)" fill="#fbb015" stroke="#fbb015">16</text>
<text class="l" transform="translate(212.08,271.64) scale(0.66,1)">M</text><text class="n" transform="translate(218.38,271.64) scale(0.63,1)" fill="#fbb015" stroke="#fbb015">17</text>
<text class="l" transform="translate(212.08,282.08) scale(0.66,1)">M</text><text class="n" transform="translate(218.38,282.08) scale(0.63,1)" fill="#fbb015" stroke="#fbb015">18</text>
<text class="l" transform="translate(212.08,292.52) scale(0.66,1)">J</text><text class="n" transform="translate(218.38,292.52) scale(0.63,1)" fill="#fbb015" stroke="#fbb015">19</text>
<text class="l" transform="translate(212.08,302.96) scale(0.66,1)">V</text><text class="n" transform="translate(218.38,302.96) scale(0.63,1)" fill="#fbb015" stroke="#fbb015">20</text>
<text class="l" transform="translate(212.08,313.4) scale(0.66,1)">S</text><text class="n" transform="translate(218.38,313.4) scale(0.63,1)" fill="#fbb015" stroke="#fbb015">21</text>
<text class="l" transform="translate(212.08,323.84) scale(0.66,1)">D</text><text class="n" transform="translate(218.38,323.84) scale(0.63,1)" fill="#e0213c" stroke="#e0213c">22</text>
<text class="l" transform="translate(212.08,334.28) scale(0.66,1)">L</text><text class="n" transform="translate(218.38,334.28) scale(0.63,1)" fill="#fbb015" stroke="#fbb015">23</text>
<text class="l" transform="translate(212.08,344.72) scale(0.66,1)">M</text><text class="n" transform="translate(218.38,344.72) scale(0.63,1)" fill="#fbb015" stroke="#fbb015">24</text>
<text class="l" transform="translate(212.08,355.16) scale(0.66,1)">M</text><text class="n" transform="translate(218.38,355.16) scale(0.63,1)" fill="#fbb015" stroke="#fbb015">25</text>
<text class="l" transform="translate(212.08,365.6) scale(0.66,1)">J</text><text class="n" transform="translate(218.38,365.6) scale(0.63,1)" fill="#fbb015" stroke="#fbb015">26</text>
<text class="l" transform="translate(212.08,376.04) scale(0.66,1)">V</text><text class="n" transform="translate(218.38,376.04) scale(0.63,1)" fill="#fbb015" stroke="#fbb015">27</text>
<text class="l" transform="translate(212.08,386.48) scale(0.66,1)">S</text><text class="n" transform="translate(218.38,386.48) scale(0.63,1)" fill="#fbb015" stroke="#fbb015">28</text>
<text class="l" transform="translate(212.08,396.92) scale(0.66,1)">D</text><text class="n" transform="translate(218.38,396.92) scale(0.63,1)" fill="#e0213c" stroke="#e0213c">29</text>
<text class="l" transform="translate(212.08,407.36) scale(0.66,1)">L</text><text class="n" transform="translate(218.38,407.36) scale(0.63,1)" fill="#fbb015" stroke="#fbb015">30</text>
<text class="l" transform="translate(212.08,417.8) scale(0.66,1)">M</text><text class="n" transform="translate(218.38,417.8) scale(0.63,1)" fill="#fbb015" stroke="#fbb015">31</text>
<path d="M207.38 420 H253.38 V421.2 A8 8 0 0 1 245.38 429.2 H215.38 A8 8 0 0 1 207.38 421.2 Z" fill="#fbb015"/>
</g>
<path d="M257.8 95.8 V89.4 A7 7 0 0 1 264.8 82.4 H296.8 A7 7 0 0 1 303.8 89.4 V95.8 Z" fill="#f39010"/>
<text class="h" transform="translate(280.8,92.7) scale(0.575,1)">JUIN</text>
<rect x="257.8" y="138.16" width="46" height="10.14" fill="#f39010" fill-opacity="0.35"/>
<rect x="257.8" y="211.24" width="46" height="10.14" fill="#f39010" fill-opacity="0.35"/>
<rect x="257.8" y="284.32" width="46" height="10.14" fill="#f39010" fill-opacity="0.35"/>
<rect x="257.8" y="357.4" width="46" height="10.14" fill="#f39010" fill-opacity="0.35"/>
<rect x="257.8" y="106.39" width="46" height="0.5" fill="#d9d9d9"/>
<rect x="257.8" y="116.83" width="46" height="0.5" fill="#d9d9d9"/>
<rect x="257.8" y="127.27" width="46" height="0.5" fill="#d9d9d9"/>
<rect x="257.8" y="137.71" width="46" height="0.5" fill="#d9d9d9"/>
<rect x="257.8" y="148.15" width="46" height="0.5" fill="#d9d9d9"/>
<rect x="257.8" y="158.59" width="46" height="0.5" fill="#d9d9d9"/>
<rect x="257.8" y="169.03" width="46" height="0.5" fill="#d9d9d9"/>
<rect x="257.8" y="179.47" width="46" height="0.5" fill="#d9d9d9"/>
<rect x="257.8" y="189.91" width="46" height="0.5" fill="#d9d9d9"/>
<rect x="257.8" y="200.35" width="46" height="0.5" fill="#d9d9d9"/>
<rect x="257.8" y="210.79" width="46" height="0.5" fill="#d9d9d9"/>
<rect x="257.8" y="221.23" width="46" height="0.5" fill="#d9d9d9"/>
<rect x="257.8" y="231.67" width="46" height="0.5" fill="#d9d9d9"/>
<rect x="257.8" y="242.11" width="46" height="0.5" fill="#d9d9d9"/>
<rect x="257.8" y="252.55" width="46" height="0.5" fill="#d9d9d9"/>
<rect x="257.8" y="262.99" width="46" height="0.5" fill="#d9d9d9"/>
<rect x="257.8" y="273.43" width="46" height="0.5" fill="#d9d9d9"/>
<rect x="257.8" y="283.87" width="46" height="0.5" fill="#d9d9d9"/>
<rect x="257.8" y="294.31" width="46" height="0.5" fill="#d9d9d9"/>
<rect x="257.8" y="304.75" width="46" height="0.5" fill="#d9d9d9"/>
<rect x="257.8" y="315.19" width="46" height="0.5" fill="#d9d9d9"/>
<rect x="257.8" y="325.63" width="46" height="0.5" fill="#d9d9d9"/>
<rect x="257.8" y="336.07" width="46" height="0.5" fill="#d9d9d9"/>
<rect x="257.8" y="346.51" width="46" height="0.5" fill="#d9d9d9"/>
<rect x="257.8" y="356.95" width="46" height="0.5" fill="#d9d9d9"/>
<rect x="257.8" y="367.39" width="46" height="0.5" fill="#d9d9d9"/>
<rect x="257.8" y="377.83" width="46" height="0.5" fill="#d9d9d9"/>
<rect x="257.8" y="388.27" width="46" height="0.5" fill="#d9d9d9"/>
<rect x="257.8" y="398.71" width="46" height="0.5" fill="#d9d9d9"/>
<rect x="257.8" y="409.15" width="46" height="0.5" fill="#d9d9d9"/>
<rect x="257.8" y="419.59" width="46" height="0.5" fill="#d9d9d9"/>
<rect x="275.8" y="115.58" width="28" height="3" fill="url(#fw)"/>
<text class="w" x="303.6" y="122.23" fill="#f39010" fill-opacity="0.47">22</text>
<rect x="275.8" y="178.22" width="28" height="3" fill="url(#fw)"/>
<text class="w" x="303.6" y="184.87" fill="#f39010" fill-opacity="0.47">23</text>
<rect x="275.8" y="251.3" width="28" height="3" fill="url(#fw)"/>
<text class="w" x="303.6" y="257.95" fill="#f39010" fill-opacity="0.47">24</text>
<rect x="275.8" y="324.38" width="28" height="3" fill="url(#fw)"/>
<text class="w" x="303.6" y="331.03" fill="#f39010" fill-opacity="0.47">25</text>
<rect x="275.8" y="387.02" width="28" height="3" fill="url(#fw)"/>
<text class="w" x="303.6" y="393.67" fill="#f39010" fill-opacity="0.47">26</text>
<text class="l" transform="translate(262.5,104.6) scale(0.66,1)">M</text><text class="n" transform="translate(268.8,104.6) scale(0.63,1)" fill="#f39010" stroke="#f39010">1</text>
<text class="l" transform="translate(262.5,115.04) scale(0.66,1)">J</text><text class="n" transform="translate(268.8,115.04) scale(0.63,1)" fill="#f39010" stroke="#f39010">2</text>
<text class="l" transform="translate(262.5,125.48) scale(0.66,1)">V</text><text class="n" transform="translate(268.8,125.48) scale(0.63,1)" fill="#f39010" stroke="#f39010">3</text>
<text class="l" transform="translate(262.5,135.92) scale(0.66,1)">S</text><text class="n" transform="translate(268.8,135.92) scale(0.63,1)" fill="#f39010" stroke="#f39010">4</text>
<text class="l" transform="translate(262.5,146.36) scale(0.66,1)">D</text><text class="n" transform="translate(268.8,146.36) scale(0.63,1)" fill="#e0213c" stroke="#e0213c">5</text>
<text class="l" transform="translate(262.5,156.8) scale(0.66,1)">L</text><text class="n" transform="translate(268.8,156.8) scale(0.63,1)" fill="#f39010" stroke="#f39010">6</text>
<text class="l" transform="translate(262.5,167.24) scale(0.66,1)">M</text><text class="n" transform="translate(268.8,167.24) scale(0.63,1)" fill="#f39010" stroke="#f39010">7</text>
<text class="l" transform="translate(262.5,177.68) scale(0.66,1)">M</text><text class="n" transform="translate(268.8,177.68) scale(0.63,1)" fill="#f39010" stroke="#f39010">8</text>
<text class="l" transform="translate(262.5,188.12) scale(0.66,1)">J</text><text class="n" transform="translate(268.8,188.12) scale(0.63,1)" fill="#f39010" stroke="#f39010">9</text>
<text class="l" transform="translate(262.5,198.56) scale(0.66,1)">V</text><text class="n" transform="translate(268.8,198.56) scale(0.63,1)" fill="#f39010" stroke="#f39010">10</text>
<text class="l" transform="translate(262.5,209) scale(0.66,1)">S</text><text class="n" transform="translate(268.8,209) scale(0.63,1)" fill="#f39010" stroke="#f39010">11</text>
<text class="l" transform="translate(262.5,219.44) scale(0.66,1)">D</text><text class="n" transform="translate(268.8,219.44) scale(0.63,1)" fill="#e0213c" stroke="#e0213c">12</text>
<text class="l" transform="translate(262.5,229.88) scale(0.66,1)">L</text><text class="n" transform="translate(268.8,229.88) scale(0.63,1)" fill="#f39010" stroke="#f39010">13</text>
<text class="l" transform="translate(262.5,240.32) scale(0.66,1)">M</text><text class="n" transform="translate(268.8,240.32) scale(0.63,1)" fill="#f39010" stroke="#f39010">14</text>
<text class="l" transform="translate(262.5,250.76) scale(0.66,1)">M</text><text class="n" transform="translate(268.8,250.76) scale(0.63,1)" fill="#f39010" stroke="#f39010">15</text>
<text class="l" transform="translate(262.5,261.2) scale(0.66,1)">J</text><text class="n" transform="translate(268.8,261.2) scale(0.63,1)" fill="#f39010" stroke="#f39010">16</text>
<text class="l" transform="translate(262.5,271.64) scale(0.66,1)">V</text><text class="n" transform="translate(268.8,271.64) scale(0.63,1)" fill="#f39010" stroke="#f39010">17</text>
<text class="l" transform="translate(262.5,282.08) scale(0.66,1)">S</text><text class="n" transform="translate(268.8,282.08) scale(0.63,1)" fill="#f39010" stroke="#f39010">18</text>
<text class="l" transform="translate(262.5,292.52) scale(0.66,1)">D</text><text class="n" transform="translate(268.8,292.52) scale(0.63,1)" fill="#e0213c" stroke="#e0213c">19</text>
<text class="l" transform="translate(262.5,302.96) scale(0.66,1)">L</text><text class="n" transform="translate(268.8,302.96) scale(0.63,1)" fill="#f39010" stroke="#f39010">20</text>
<text class="l" transform="translate(262.5,313.4) scale(0.66,1)">M</text><text class="n" transform="translate(268.8,313.4) scale(0.63,1)" fill="#f39010" stroke="#f39010">21</text>
<text class="l" transform="translate(262.5,323.84) scale(0.66,1)">M</text><text class="n" transform="translate(268.8,323.84) scale(0.63,1)" fill="#f39010" stroke="#f39010">22</text>
<text class="l" transform="translate(262.5,334.28) scale(0.66,1)">J</text><text class="n" transform="translate(268.8,334.28) scale(0.63,1)" fill="#f39010" stroke="#f39010">23</text>
<text class="l" transform="translate(262.5,344.72) scale(0.66,1)">V</text><text class="n" transform="translate(268.8,344.72) scale(0.63,1)" fill="#f39010" stroke="#f39010">24</text>
<text class="l" transform="translate(262.5,355.16) scale(0.66,1)">S</text><text class="n" transform="translate(268.8,355.16) scale(0.63,1)" fill="#f39010" stroke="#f39010">25</text>
<text class="l" transform="translate(262.5,365.6) scale(0.66,1)">D</text><text class="n" transform="translate(268.8,365.6) scale(0.63,1)" fill="#e0213c" stroke="#e0213c">26</text>
<text class="l" transform="translate(262.5,376.04) scale(0.66,1)">L</text><text class="n" transform="translate(268.8,376.04) scale(0.63,1)" fill="#f39010" stroke="#f39010">27</text>
<text class="l" transform="translate(262.5,386.48) scale(0.66,1)">M</text><text class="n" transform="translate(268.8,386.48) scale(0.63,1)" fill="#f39010" stroke="#f39010">28</text>
<text class="l" transform="translate(262.5,396.92) scale(0.66,1)">M</text><text class="n" transform="translate(268.8,396.92) scale(0.63,1)" fill="#f39010" stroke="#f39010">29</text>
<text class="l" transform="translate(262.5,407.36) scale(0.66,1)">J</text><text class="n" transform="translate(268.8,407.36) scale(0.63,1)" fill="#f39010" stroke="#f39010">30</text>
<path d="M257.8 420 H303.8 V421.2 A8 8 0 0 1 295.8 429.2 H265.8 A8 8 0 0 1 257.8 421.2 Z" fill="#f39010"/>
</g>
<path d="M308.22 95.8 V89.4 A7 7 0 0 1 315.22 82.4 H347.22 A7 7 0 0 1 354.22 89.4 V95.8 Z" fill="#e8571a"/>
<text class="h" transform="translate(331.22,92.7) scale(0.575,1)">JUILLET</text>
<rect x="308.22" y="117.28" width="46" height="10.14" fill="#e8571a" fill-opacity="0.35"/>
<rect x="308.22" y="190.36" width="46" height="10.14" fill="#e8571a" fill-opacity="0.35"/>
<rect x="308.22" y="263.44" width="46" height="10.14" fill="#e8571a" fill-opacity="0.35"/>
<rect x="308.22" y="336.52" width="46" height="10.14" fill="#e8571a" fill-opacity="0.35"/>
<rect x="308.22" y="409.6" width="46" height="10.14" fill="#e8571a" fill-opacity="0.35"/>
<rect x="308.22" y="106.39" width="46" height="0.5" fill="#d9d9d9"/>
<rect x="308.22" y="116.83" width="46" height="0.5" fill="#d9d9d9"/>
<rect x="308.22" y="127.27" width="46" height="0.5" fill="#d9d9d9"/>
<rect x="308.22" y="137.71" width="46" height="0.5" fill="#d9d9d9"/>
<rect x="308.22" y="148.15" width="46" height="0.5" fill="#d9d9d9"/>
<rect x="308.22" y="158.59" width="46" height="0.5" fill="#d9d9d9"/>
<rect x="308.22" y="169.03" width="46" height="0.5" fill="#d9d9d9"/>
<rect x="308.22" y="179.47" width="46" height="0.5" fill="#d9d9d9"/>
<rect x="308.22" y="189.91" width="46" height="0.5" fill="#d9d9d9"/>
<rect x="308.22" y="200.35" width="46" height="0.5" fill="#d9d9d9"/>
<rect x="308.22" y="210.79" width="46" height="0.5" fill="#d9d9d9"/>
<rect x="308.22" y="221.23" width="46" height="0.5" fill="#d9d9d9"/>
<rect x="308.22" y="231.67" width="46" height="0.5" fill="#d9d9d9"/>
<rect x="308.22" y="242.11" width="46" height="0.5" fill="#d9d9d9"/>
<rect x="308.22" y="252.55" width="46" height="0.5" fill="#d9d9d9"/>
<rect x="308.22" y="262.99" width="46" height="0.5" fill="#d9d9d9"/>
<rect x="308.22" y="273.43" width="46" height="0.5" fill="#d9d9d9"/>
<rect x="308.22" y="283.87" width="46" height="0.5" fill="#d9d9d9"/>
<rect x="308.22" y="294.31" width="46" height="0.5" fill="#d9d9d9"/>
<rect x="308.22" y="304.75" width="46" height="0.5" fill="#d9d9d9"/>
<rect x="308.22" y="315.19" width="46" height="0.5" fill="#d9d9d9"/>
<rect x="308.22" y="325.63" width="46" height="0.5" fill="#d9d9d9"/>
<rect x="308.22" y="336.07" width="46" height="0.5" fill="#d9d9d9"/>
<rect x="308.22" y="346.51" width="46" height="0.5" fill="#d9d9d9"/>
<rect x="308.22" y="356.95" width="46" height="0.5" fill="#d9d9d9"/>
<rect x="308.22" y="367.39" width="46" height="0.5" fill="#d9d9d9"/>
<rect x="308.22" y="377.83" width="46" height="0.5" fill="#d9d9d9"/>
<rect x="308.22" y="388.27" width="46" height="0.5" fill="#d9d9d9"/>
<rect x="308.22" y="398.71" width="46" height="0.5" fill="#d9d9d9"/>
<rect x="308.22" y="409.15" width="46" height="0.5" fill="#d9d9d9"/>
<rect x="308.22" y="419.59" width="46" height="0.5" fill="#d9d9d9"/>
<rect x="326.22" y="157.34" width="28" height="3" fill="url(#fw)"/>
<text class="w" x="354.02" y="163.99" fill="#e8571a" fill-opacity="0.47">27</text>
<rect x="326.22" y="230.42" width="28" height="3" fill="url(#fw)"/>
<text class="w" x="354.02" y="237.07" fill="#e8571a" fill-opacity="0.47">28</text>
<rect x="326.22" y="303.5" width="28" height="3" fill="url(#fw)"/>
<text class="w" x="354.02" y="310.15" fill="#e8571a" fill-opacity="0.47">29</text>
<rect x="326.22" y="376.58" width="28" height="3" fill="url(#fw)"/>
<text class="w" x="354.02" y="383.23" fill="#e8571a" fill-opacity="0.47">30</text>
<text class="l" transform="translate(312.92,104.6) scale(0.66,1)">V</text><text class="n" transform="translate(319.22,104.6) scale(0.63,1)" fill="#e8571a" stroke="#e8571a">1</text>
<text class="l" transform="translate(312.92,115.04) scale(0.66,1)">S</text><text class="n" transform="translate(319.22,115.04) scale(0.63,1)" fill="#e8571a" stroke="#e8571a">2</text>
<text class="l" transform="translate(312.92,125.48) scale(0.66,1)">D</text><text class="n" transform="translate(319.22,125.48) scale(0.63,1)" fill="#e0213c" stroke="#e0213c">3</text>
<text class="l" transform="translate(312.92,135.92) scale(0.66,1)">L</text><text class="n" transform="translate(319.22,135.92) scale(0.63,1)" fill="#e8571a" stroke="#e8571a">4</text>
<text class="l" transform="translate(312.92,146.36) scale(0.66,1)">M</text><text class="n" transform="translate(319.22,146.36) scale(0.63,1)" fill="#e8571a" stroke="#e8571a">5</text>
<text class="l" transform="translate(312.92,156.8) scale(0.66,1)">M</text><text class="n" transform="translate(319.22,156.8) scale(0.63,1)" fill="#e8571a" stroke="#e8571a">6</text>
<text class="l" transform="translate(312.92,167.24) scale(0.66,1)">J</text><text class="n" transform="translate(319.22,167.24) scale(0.63,1)" fill="#e8571a" stroke="#e8571a">7</text>
<text class="l" transform="translate(312.92,177.68) scale(0.66,1)">V</text><text class="n" transform="translate(319.22,177.68) scale(0.63,1)" fill="#e8571a" stroke="#e8571a">8</text>
<text class="l" transform="translate(312.92,188.12) scale(0.66,1)">S</text><text class="n" transform="translate(319.22,188.12) scale(0.63,1)" fill="#e8571a" stroke="#e8571a">9</text>
<text class="l" transform="translate(312.92,198.56) scale(0.66,1)">D</text><text class="n" transform="translate(319.22,198.56) scale(0.63,1)" fill="#e0213c" stroke="#e0213c">10</text>
<text class="l" transform="translate(312.92,209) scale(0.66,1)">L</text><text class="n" transform="translate(319.22,209) scale(0.63,1)" fill="#e8571a" stroke="#e8571a">11</text>
<text class="l" transform="translate(312.92,219.44) scale(0.66,1)">M</text><text class="n" transform="translate(319.22,219.44) scale(0.63,1)" fill="#e8571a" stroke="#e8571a">12</text>
<text class="l" transform="translate(312.92,229.88) scale(0.66,1)">M</text><text class="n" transform="translate(319.22,229.88) scale(0.63,1)" fill="#e8571a" stroke="#e8571a">13</text>
<text class="l" transform="translate(312.92,240.32) scale(0.66,1)">J</text><text class="n" transform="translate(319.22,240.32) scale(0.63,1)" fill="#e8571a" stroke="#e8571a">14</text>
<text class="l" transform="translate(312.92,250.76) scale(0.66,1)">V</text><text class="n" transform="translate(319.22,250.76) scale(0.63,1)" fill="#e8571a" stroke="#e8571a">15</text>
<text class="l" transform="translate(312.92,261.2) scale(0.66,1)">S</text><text class="n" transform="translate(319.22,261.2) scale(0.63,1)" fill="#e8571a" stroke="#e8571a">16</text>
<text class="l" transform="translate(312.92,271.64) scale(0.66,1)">D</text><text class="n" transform="translate(319.22,271.64) scale(0.63,1)" fill="#e0213c" stroke="#e0213c">17</text>
<text class="l" transform="translate(312.92,282.08) scale(0.66,1)">L</text><text class="n" transform="translate(319.22,282.08) scale(0.63,1)" fill="#e8571a" stroke="#e8571a">18</text>
<text class="l" transform="translate(312.92,292.52) scale(0.66,1)">M</text><text class="n" transform="translate(319.22,292.52) scale(0.63,1)" fill="#e8571a" stroke="#e8571a">19</text>
<text class="l" transform="translate(312.92,302.96) scale(0.66,1)">M</text><text class="n" transform="translate(319.22,302.96) scale(0.63,1)" fill="#e8571a" stroke="#e8571a">20</text>
<text class="l" transform="translate(312.92,313.4) scale(0.66,1)">J</text><text class="n" transform="translate(319.22,313.4) scale(0.63,1)" fill="#e8571a" stroke="#e8571a">21</text>
<text class="l" transform="translate(312.92,323.84) scale(0.66,1)">V</text><text class="n" transform="translate(319.22,323.84) scale(0.63,1)" fill="#e8571a" stroke="#e8571a">22</text>
<text class="l" transform="translate(312.92,334.28) scale(0.66,1)">S</text><text class="n" transform="translate(319.22,334.28) scale(0.63,1)" fill="#e8571a" stroke="#e8571a">23</text>
<text class="l" transform="translate(312.92,344.72) scale(0.66,1)">D</text><text class="n" transform="translate(319.22,344.72) scale(0.63,1)" fill="#e0213c" stroke="#e0213c">24</text>
<text class="l" transform="translate(312.92,355.16) scale(0.66,1)">L</text><text class="n" transform="translate(319.22,355.16) scale(0.63,1)" fill="#e8571a" stroke="#e8571a">25</text>
<text class="l" transform="translate(312.92,365.6) scale(0.66,1)">M</text><text class="n" transform="translate(319.22,365.6) scale(0.63,1)" fill="#e8571a" stroke="#e8571a">26</text>
<text class="l" transform="translate(312.92,376.04) scale(0.66,1)">M</text><text class="n" transform="translate(319.22,376.04) scale(0.63,1)" fill="#e8571a" stroke="#e8571a">27</text>
<text class="l" transform="translate(312.92,386.48) scale(0.66,1)">J</text><text class="n" transform="translate(319.22,386.48) scale(0.63,1)" fill="#e8571a" stroke="#e8571a">28</text>
<text class="l" transform="translate(312.92,396.92) scale(0.66,1)">V</text><text class="n" transform="translate(319.22,396.92) scale(0.63,1)" fill="#e8571a" stroke="#e8571a">29</text>
<text class="l" transform="translate(312.92,407.36) scale(0.66,1)">S</text><text class="n" transform="translate(319.22,407.36) scale(0.63,1)" fill="#e8571a" stroke="#e8571a">30</text>
<text class="l" transform="translate(312.92,417.8) scale(0.66,1)">D</text><text class="n" transform="translate(319.22,417.8) scale(0.63,1)" fill="#e0213c" stroke="#e0213c">31</text>
<path d="M308.22 420 H354.22 V421.2 A8 8 0 0 1 346.22 429.2 H316.22 A8 8 0 0 1 308.22 421.2 Z" fill="#e8571a"/>
</g>
<path d="M358.64 95.8 V89.4 A7 7 0 0 1 365.64 82.4 H397.64 A7 7 0 0 1 404.64 89.4 V95.8 Z" fill="#a8401a"/>
<text class="h" transform="translate(381.64,92.7) scale(0.575,1)">AOUT</text>
<rect x="358.64" y="159.04" width="46" height="10.14" fill="#a8401a" fill-opacity="0.35"/>
<rect x="358.64" y="232.12" width="46" height="10.14" fill="#a8401a" fill-opacity="0.35"/>
<rect x="358.64" y="305.2" width="46" height="10.14" fill="#a8401a" fill-opacity="0.35"/>
<rect x="358.64" y="378.28" width="46" height="10.14" fill="#a8401a" fill-opacity="0.35"/>
<rect x="358.64" y="106.39" width="46" height="0.5" fill="#d9d9d9"/>
<rect x="358.64" y="116.83" width="46" height="0.5" fill="#d9d9d9"/>
<rect x="358.64" y="127.27" width="46" height="0.5" fill="#d9d9d9"/>
<rect x="358.64" y="137.71" width="46" height="0.5" fill="#d9d9d9"/>
<rect x="358.64" y="148.15" width="46" height="0.5" fill="#d9d9d9"/>
<rect x="358.64" y="158.59" width="46" height="0.5" fill="#d9d9d9"/>
<rect x="358.64" y="169.03" width="46" height="0.5" fill="#d9d9d9"/>
<rect x="358.64" y="179.47" width="46" height="0.5" fill="#d9d9d9"/>
<rect x="358.64" y="189.91" width="46" height="0.5" fill="#d9d9d9"/>
<rect x="358.64" y="200.35" width="46" height="0.5" fill="#d9d9d9"/>
<rect x="358.64" y="210.79" width="46" height="0.5" fill="#d9d9d9"/>
<rect x="358.64" y="221.23" width="46" height="0.5" fill="#d9d9d9"/>
<rect x="358.64" y="231.67" width="46" height="0.5" fill="#d9d9d9"/>
<rect x="358.64" y="242.11" width="46" height="0.5" fill="#d9d9d9"/>
<rect x="358.64" y="252.55" width="46" height="0.5" fill="#d9d9d9"/>
<rect x="358.64" y="262.99" width="46" height="0.5" fill="#d9d9d9"/>
<rect x="358.64" y="273.43" width="46" height="0.5" fill="#d9d9d9"/>
<rect x="358.64" y="283.87" width="46" height="0.5" fill="#d9d9d9"/>
<rect x="358.64" y="294.31" width="46" height="0.5" fill="#d9d9d9"/>
<rect x="358.64" y="304.75" width="46" height="0.5" fill="#d9d9d9"/>
<rect x="358.64" y="315.19" width="46" height="0.5" fill="#d9d9d9"/>
<rect x="358.64" y="325.63" width="46" height="0.5" fill="#d9d9d9"/>
<rect x="358.64" y="336.07" width="46" height="0.5" fill="#d9d9d9"/>
<rect x="358.64" y="346.51" width="46" height="0.5" fill="#d9d9d9"/>
<rect x="358.64" y="356.95" width="46" height="0.5" fill="#d9d9d9"/>
<rect x="358.64" y="367.39" width="46" height="0.5" fill="#d9d9d9"/>
<rect x="358.64" y="377.83" width="46" height="0.5" fill="#d9d9d9"/>
<rect x="358.64" y="388.27" width="46" height="0.5" fill="#d9d9d9"/>
<rect x="358.64" y="398.71" width="46" height="0.5" fill="#d9d9d9"/>
<rect x="358.64" y="409.15" width="46" height="0.5" fill="#d9d9d9"/>
<rect x="358.64" y="419.59" width="46" height="0.5" fill="#d9d9d9"/>
<rect x="376.64" y="126.02" width="28" height="3" fill="url(#fw)"/>
<text class="w" x="404.44" y="132.67" fill="#a8401a" fill-opacity="0.47">31</text>
<rect x="376.64" y="199.1" width="28" height="3" fill="url(#fw)"/>
<text class="w" x="404.44" y="205.75" fill="#a8401a" fill-opacity="0.47">32</text>
<rect x="376.64" y="272.18" width="28" height="3" fill="url(#fw)"/>
<text class="w" x="404.44" y="278.83" fill="#a8401a" fill-opacity="0.47">33</text>
<rect x="376.64" y="345.26" width="28" height="3" fill="url(#fw)"/>
<text class="w" x="404.44" y="351.91" fill="#a8401a" fill-opacity="0.47">34</text>
<rect x="376.64" y="407.9" width="28" height="3" fill="url(#fw)"/>
<text class="w" x="404.44" y="414.55" fill="#a8401a" fill-opacity="0.47">35</text>
<text class="l" transform="translate(363.34,104.6) scale(0.66,1)">L</text><text class="n" transform="translate(369.64,104.6) scale(0.63,1)" fill="#a8401a" stroke="#a8401a">1</text>
<text class="l" transform="translate(363.34,115.04) scale(0.66,1)">M</text><text class="n" transform="translate(369.64,115.04) scale(0.63,1)" fill="#a8401a" stroke="#a8401a">2</text>
<text class="l" transform="translate(363.34,125.48) scale(0.66,1)">M</text><text class="n" transform="translate(369.64,125.48) scale(0.63,1)" fill="#a8401a" stroke="#a8401a">3</text>
<text class="l" transform="translate(363.34,135.92) scale(0.66,1)">J</text><text class="n" transform="translate(369.64,135.92) scale(0.63,1)" fill="#a8401a" stroke="#a8401a">4</text>
<text class="l" transform="translate(363.34,146.36) scale(0.66,1)">V</text><text class="n" transform="translate(369.64,146.36) scale(0.63,1)" fill="#a8401a" stroke="#a8401a">5</text>
<text class="l" transform="translate(363.34,156.8) scale(0.66,1)">S</text><text class="n" transform="translate(369.64,156.8) scale(0.63,1)" fill="#a8401a" stroke="#a8401a">6</text>
<text class="l" transform="translate(363.34,167.24) scale(0.66,1)">D</text><text class="n" transform="translate(369.64,167.24) scale(0.63,1)" fill="#e0213c" stroke="#e0213c">7</text>
<text class="l" transform="translate(363.34,177.68) scale(0.66,1)">L</text><text class="n" transform="translate(369.64,177.68) scale(0.63,1)" fill="#a8401a" stroke="#a8401a">8</text>
<text class="l" transform="translate(363.34,188.12) scale(0.66,1)">M</text><text class="n" transform="translate(369.64,188.12) scale(0.63,1)" fill="#a8401a" stroke="#a8401a">9</text>
<text class="l" transform="translate(363.34,198.56) scale(0.66,1)">M</text><text class="n" transform="translate(369.64,198.56) scale(0.63,1)" fill="#a8401a" stroke="#a8401a">10</text>
<text class="l" transform="translate(363.34,209) scale(0.66,1)">J</text><text class="n" transform="translate(369.64,209) scale(0.63,1)" fill="#a8401a" stroke="#a8401a">11</text>
<text class="l" transform="translate(363.34,219.44) scale(0.66,1)">V</text><text class="n" transform="translate(369.64,219.44) scale(0.63,1)" fill="#a8401a" stroke="#a8401a">12</text>
<text class="l" transform="translate(363.34,229.88) scale(0.66,1)">S</text><text class="n" transform="translate(369.64,229.88) scale(0.63,1)" fill="#a8401a" stroke="#a8401a">13</text>
<text class="l" transform="translate(363.34,240.32) scale(0.66,1)">D</text><text class="n" transform="translate(369.64,240.32) scale(0.63,1)" fill="#e0213c" stroke="#e0213c">14</text>
<text class="l" transform="translate(363.34,250.76) scale(0.66,1)">L</text><text class="n" transform="translate(369.64,250.76) scale(0.63,1)" fill="#a8401a" stroke="#a8401a">15</text>
<text class="l" transform="translate(363.34,261.2) scale(0.66,1)">M</text><text class="n" transform="translate(369.64,261.2) scale(0.63,1)" fill="#a8401a" stroke="#a8401a">16</text>
<text class="l" transform="translate(363.34,271.64) scale(0.66,1)">M</text><text class="n" transform="translate(369.64,271.64) scale(0.63,1)" fill="#a8401a" stroke="#a8401a">17</text>
<text class="l" transform="translate(363.34,282.08) scale(0.66,1)">J</text><text class="n" transform="translate(369.64,282.08) scale(0.63,1)" fill="#a8401a" stroke="#a8401a">18</text>
<text class="l" transform="translate(363.34,292.52) scale(0.66,1)">V</text><text class="n" transform="translate(369.64,292.52) scale(0.63,1)" fill="#a8401a" stroke="#a8401a">19</text>
<text class="l" transform="translate(363.34,302.96) scale(0.66,1)">S</text><text class="n" transform="translate(369.64,302.96) scale(0.63,1)" fill="#a8401a" stroke="#a8401a">20</text>
<text class="l" transform="translate(363.34,313.4) scale(0.66,1)">D</text><text class="n" transform="translate(369.64,313.4) scale(0.63,1)" fill="#e0213c" stroke="#e0213c">21</text>
<text class="l" transform="translate(363.34,323.84) scale(0.66,1)">L</text><text class="n" transform="translate(369.64,323.84) scale(0.63,1)" fill="#a8401a" stroke="#a8401a">22</text>
<text class="l" transform="translate(363.34,334.28) scale(0.66,1)">M</text><text class="n" transform="translate(369.64,334.28) scale(0.63,1)" fill="#a8401a" stroke="#a8401a">23</text>
<text class="l" transform="translate(363.34,344.72) scale(0.66,1)">M</text><text class="n" transform="translate(369.64,344.72) scale(0.63,1)" fill="#a8401a" stroke="#a8401a">24</text>
<text class="l" transform="translate(363.34,355.16) scale(0.66,1)">J</text><text class="n" transform="translate(369.64,355.16) scale(0.63,1)" fill="#a8401a" stroke="#a8401a">25</text>
<text class="l" transform="translate(363.34,365.6) scale(0.66,1)">V</text><text class="n" transform="translate(369.64,365.6) scale(0.63,1)" fill="#a8401a" stroke="#a8401a">26</text>
<text class="l" transform="translate(363.34,376.04) scale(0.66,1)">S</text><text class="n" transform="translate(369.64,376.04) scale(0.63,1)" fill="#a8401a" stroke="#a8401a">27</text>
<text class="l" transform="translate(363.34,386.48) scale(0.66,1)">D</text><text class="n" transform="translate(369.64,386.48) scale(0.63,1)" fill="#e0213c" stroke="#e0213c">28</text>
<text class="l" transform="translate(363.34,396.92) scale(0.66,1)">L</text><text class="n" transform="translate(369.64,396.92) scale(0.63,1)" fill="#a8401a" stroke="#a8401a">29</text>
<text class="l" transform="translate(363.34,407.36) scale(0.66,1)">M</text><text class="n" transform="translate(369.64,407.36) scale(0.63,1)" fill="#a8401a" stroke="#a8401a">30</text>
<text class="l" transform="translate(363.34,417.8) scale(0.66,1)">M</text><text class="n" transform="translate(369.64,417.8) scale(0.63,1)" fill="#a8401a" stroke="#a8401a">31</text>
<path d="M358.64 420 H404.64 V421.2 A8 8 0 0 1 396.64 429.2 H366.64 A8 8 0 0 1 358.64 421.2 Z" fill="#a8401a"/>
</g>
<path d="M409.06 95.8 V89.4 A7 7 0 0 1 416.06 82.4 H448.06 A7 7 0 0 1 455.06 89.4 V95.8 Z" fill="#b00d5a"/>
<text class="h" transform="translate(432.06,92.7) scale(0.575,1)">SEPTEMBRE</text>
<rect x="409.06" y="127.72" width="46" height="10.14" fill="#b00d5a" fill-opacity="0.35"/>
<rect x="409.06" y="200.8" width="46" height="10.14" fill="#b00d5a" fill-opacity="0.35"/>
<rect x="409.06" y="273.88" width="46" height="10.14" fill="#b00d5a" fill-opacity="0.35"/>
<rect x="409.06" y="346.96" width="46" height="10.14" fill="#b00d5a" fill-opacity="0.35"/>
<rect x="409.06" y="106.39" width="46" height="0.5" fill="#d9d9d9"/>
<rect x="409.06" y="116.83" width="46" height="0.5" fill="#d9d9d9"/>
<rect x="409.06" y="127.27" width="46" height="0.5" fill="#d9d9d9"/>
<rect x="409.06" y="137.71" width="46" height="0.5" fill="#d9d9d9"/>
<rect x="409.06" y="148.15" width="46" height="0.5" fill="#d9d9d9"/>
<rect x="409.06" y="158.59" width="46" height="0.5" fill="#d9d9d9"/>
<rect x="409.06" y="169.03" width="46" height="0.5" fill="#d9d9d9"/>
<rect x="409.06" y="179.47" width="46" height="0.5" fill="#d9d9d9"/>
<rect x="409.06" y="189.91" width="46" height="0.5" fill="#d9d9d9"/>
<rect x="409.06" y="200.35" width="46" height="0.5" fill="#d9d9d9"/>
<rect x="409.06" y="210.79" width="46" height="0.5" fill="#d9d9d9"/>
<rect x="409.06" y="221.23" width="46" height="0.5" fill="#d9d9d9"/>
<rect x="409.06" y="231.67" width="46" height="0.5" fill="#d9d9d9"/>
<rect x="409.06" y="242.11" width="46" height="0.5" fill="#d9d9d9"/>
<rect x="409.06" y="252.55" width="46" height="0.5" fill="#d9d9d9"/>
<rect x="409.06" y="262.99" width="46" height="0.5" fill="#d9d9d9"/>
<rect x="409.06" y="273.43" width="46" height="0.5" fill="#d9d9d9"/>
<rect x="409.06" y="283.87" width="46" height="0.5" fill="#d9d9d9"/>
<rect x="409.06" y="294.31" width="46" height="0.5" fill="#d9d9d9"/>
<rect x="409.06" y="304.75" width="46" height="0.5" fill="#d9d9d9"/>
<rect x="409.06" y="315.19" width="46" height="0.5" fill="#d9d9d9"/>
<rect x="409.06" y="325.63" width="46" height="0.5" fill="#d9d9d9"/>
<rect x="409.06" y="336.07" width="46" height="0.5" fill="#d9d9d9"/>
<rect x="409.06" y="346.51" width="46" height="0.5" fill="#d9d9d9"/>
<rect x="409.06" y="356.95" width="46" height="0.5" fill="#d9d9d9"/>
<rect x="409.06" y="367.39" width="46" height="0.5" fill="#d9d9d9"/>
<rect x="409.06" y="377.83" width="46" height="0.5" fill="#d9d9d9"/>
<rect x="409.06" y="388.27" width="46" height="0.5" fill="#d9d9d9"/>
<rect x="409.06" y="398.71" width="46" height="0.5" fill="#d9d9d9"/>
<rect x="409.06" y="409.15" width="46" height="0.5" fill="#d9d9d9"/>
<rect x="409.06" y="419.59" width="46" height="0.5" fill="#d9d9d9"/>
<rect x="427.06" y="105.14" width="28" height="3" fill="url(#fw)"/>
<text class="w" x="454.86" y="111.79" fill="#b00d5a" fill-opacity="0.47">35</text>
<rect x="427.06" y="167.78" width="28" height="3" fill="url(#fw)"/>
<text class="w" x="454.86" y="174.43" fill="#b00d5a" fill-opacity="0.47">36</text>
<rect x="427.06" y="240.86" width="28" height="3" fill="url(#fw)"/>
<text class="w" x="454.86" y="247.51" fill="#b00d5a" fill-opacity="0.47">37</text>
<rect x="427.06" y="313.94" width="28" height="3" fill="url(#fw)"/>
<text class="w" x="454.86" y="320.59" fill="#b00d5a" fill-opacity="0.47">38</text>
<rect x="427.06" y="387.02" width="28" height="3" fill="url(#fw)"/>
<text class="w" x="454.86" y="393.67" fill="#b00d5a" fill-opacity="0.47">39</text>
<text class="l" transform="translate(413.76,104.6) scale(0.66,1)">J</text><text class="n" transform="translate(420.06,104.6) scale(0.63,1)" fill="#b00d5a" stroke="#b00d5a">1</text>
<text class="l" transform="translate(413.76,115.04) scale(0.66,1)">V</text><text class="n" transform="translate(420.06,115.04) scale(0.63,1)" fill="#b00d5a" stroke="#b00d5a">2</text>
<text class="l" transform="translate(413.76,125.48) scale(0.66,1)">S</text><text class="n" transform="translate(420.06,125.48) scale(0.63,1)" fill="#b00d5a" stroke="#b00d5a">3</text>
<text class="l" transform="translate(413.76,135.92) scale(0.66,1)">D</text><text class="n" transform="translate(420.06,135.92) scale(0.63,1)" fill="#e0213c" stroke="#e0213c">4</text>
<text class="l" transform="translate(413.76,146.36) scale(0.66,1)">L</text><text class="n" transform="translate(420.06,146.36) scale(0.63,1)" fill="#b00d5a" stroke="#b00d5a">5</text>
<text class="l" transform="translate(413.76,156.8) scale(0.66,1)">M</text><text class="n" transform="translate(420.06,156.8) scale(0.63,1)" fill="#b00d5a" stroke="#b00d5a">6</text>
<text class="l" transform="translate(413.76,167.24) scale(0.66,1)">M</text><text class="n" transform="translate(420.06,167.24) scale(0.63,1)" fill="#b00d5a" stroke="#b00d5a">7</text>
<text class="l" transform="translate(413.76,177.68) scale(0.66,1)">J</text><text class="n" transform="translate(420.06,177.68) scale(0.63,1)" fill="#b00d5a" stroke="#b00d5a">8</text>
<text class="l" transform="translate(413.76,188.12) scale(0.66,1)">V</text><text class="n" transform="translate(420.06,188.12) scale(0.63,1)" fill="#b00d5a" stroke="#b00d5a">9</text>
<text class="l" transform="translate(413.76,198.56) scale(0.66,1)">S</text><text class="n" transform="translate(420.06,198.56) scale(0.63,1)" fill="#b00d5a" stroke="#b00d5a">10</text>
<text class="l" transform="translate(413.76,209) scale(0.66,1)">D</text><text class="n" transform="translate(420.06,209) scale(0.63,1)" fill="#e0213c" stroke="#e0213c">11</text>
<text class="l" transform="translate(413.76,219.44) scale(0.66,1)">L</text><text class="n" transform="translate(420.06,219.44) scale(0.63,1)" fill="#b00d5a" stroke="#b00d5a">12</text>
<text class="l" transform="translate(413.76,229.88) scale(0.66,1)">M</text><text class="n" transform="translate(420.06,229.88) scale(0.63,1)" fill="#b00d5a" stroke="#b00d5a">13</text>
<text class="l" transform="translate(413.76,240.32) scale(0.66,1)">M</text><text class="n" transform="translate(420.06,240.32) scale(0.63,1)" fill="#b00d5a" stroke="#b00d5a">14</text>
<text class="l" transform="translate(413.76,250.76) scale(0.66,1)">J</text><text class="n" transform="translate(420.06,250.76) scale(0.63,1)" fill="#b00d5a" stroke="#b00d5a">15</text>
<text class="l" transform="translate(413.76,261.2) scale(0.66,1)">V</text><text class="n" transform="translate(420.06,261.2) scale(0.63,1)" fill="#b00d5a" stroke="#b00d5a">16</text>
<text class="l" transform="translate(413.76,271.64) scale(0.66,1)">S</text><text class="n" transform="translate(420.06,271.64) scale(0.63,1)" fill="#b00d5a" stroke="#b00d5a">17</text>
<text class="l" transform="translate(413.76,282.08) scale(0.66,1)">D</text><text class="n" transform="translate(420.06,282.08) scale(0.63,1)" fill="#e0213c" stroke="#e0213c">18</text>
<text class="l" transform="translate(413.76,292.52) scale(0.66,1)">L</text><text class="n" transform="translate(420.06,292.52) scale(0.63,1)" fill="#b00d5a" stroke="#b00d5a">19</text>
<text class="l" transform="translate(413.76,302.96) scale(0.66,1)">M</text><text class="n" transform="translate(420.06,302.96) scale(0.63,1)" fill="#b00d5a" stroke="#b00d5a">20</text>
<text class="l" transform="translate(413.76,313.4) scale(0.66,1)">M</text><text class="n" transform="translate(420.06,313.4) scale(0.63,1)" fill="#b00d5a" stroke="#b00d5a">21</text>
<text class="l" transform="translate(413.76,323.84) scale(0.66,1)">J</text><text class="n" transform="translate(420.06,323.84) scale(0.63,1)" fill="#b00d5a" stroke="#b00d5a">22</text>
<text class="l" transform="translate(413.76,334.28) scale(0.66,1)">V</text><text class="n" transform="translate(420.06,334.28) scale(0.63,1)" fill="#b00d5a" stroke="#b00d5a">23</text>
<text class="l" transform="translate(413.76,344.72) scale(0.66,1)">S</text><text class="n" transform="translate(420.06,344.72) scale(0.63,1)" fill="#b00d5a" stroke="#b00d5a">24</text>
<text class="l" transform="translate(413.76,355.16) scale(0.66,1)">D</text><text class="n" transform="translate(420.06,355.16) scale(0.63,1)" fill="#e0213c" stroke="#e0213c">25</text>
<text class="l" transform="translate(413.76,365.6) scale(0.66,1)">L</text><text class="n" transform="translate(420.06,365.6) scale(0.63,1)" fill="#b00d5a" stroke="#b00d5a">26</text>
<text class="l" transform="translate(413.76,376.04) scale(0.66,1)">M</text><text class="n" transform="translate(420.06,376.04) scale(0.63,1)" fill="#b00d5a" stroke="#b00d5a">27</text>
<text class="l" transform="translate(413.76,386.48) scale(0.66,1)">M</text><text class="n" transform="translate(420.06,386.48) scale(0.63,1)" fill="#b00d5a" stroke="#b00d5a">28</text>
<text class="l" transform="translate(413.76,396.92) scale(0.66,1)">J</text><text class="n" transform="translate(420.06,396.92) scale(0.63,1)" fill="#b00d5a" stroke="#b00d5a">29</text>
<text class="l" transform="translate(413.76,407.36) scale(0.66,1)">V</text><text class="n" transform="translate(420.06,407.36) scale(0.63,1)" fill="#b00d5a" stroke="#b00d5a">30</text>
<path d="M409.06 420 H455.06 V421.2 A8 8 0 0 1 447.06 429.2 H417.06 A8 8 0 0 1 409.06 421.2 Z" fill="#b00d5a"/>
</g>
<path d="M459.48 95.8 V89.4 A7 7 0 0 1 466.48 82.4 H498.48 A7 7 0 0 1 505.48 89.4 V95.8 Z" fill="#732489"/>
<text class="h" transform="translate(482.48,92.7) scale(0.575,1)">OCTOBRE</text>
<rect x="459.48" y="106.84" width="46" height="10.14" fill="#732489" fill-opacity="0.35"/>
<rect x="459.48" y="179.92" width="46" height="10.14" fill="#732489" fill-opacity="0.35"/>
<rect x="459.48" y="253" width="46" height="10.14" fill="#732489" fill-opacity="0.35"/>
<rect x="459.48" y="326.08" width="46" height="10.14" fill="#732489" fill-opacity="0.35"/>
<rect x="459.48" y="399.16" width="46" height="10.14" fill="#732489" fill-opacity="0.35"/>
<rect x="459.48" y="106.39" width="46" height="0.5" fill="#d9d9d9"/>
<rect x="459.48" y="116.83" width="46" height="0.5" fill="#d9d9d9"/>
<rect x="459.48" y="127.27" width="46" height="0.5" fill="#d9d9d9"/>
<rect x="459.48" y="137.71" width="46" height="0.5" fill="#d9d9d9"/>
<rect x="459.48" y="148.15" width="46" height="0.5" fill="#d9d9d9"/>
<rect x="459.48" y="158.59" width="46" height="0.5" fill="#d9d9d9"/>
<rect x="459.48" y="169.03" width="46" height="0.5" fill="#d9d9d9"/>
<rect x="459.48" y="179.47" width="46" height="0.5" fill="#d9d9d9"/>
<rect x="459.48" y="189.91" width="46" height="0.5" fill="#d9d9d9"/>
<rect x="459.48" y="200.35" width="46" height="0.5" fill="#d9d9d9"/>
<rect x="459.48" y="210.79" width="46" height="0.5" fill="#d9d9d9"/>
<rect x="459.48" y="221.23" width="46" height="0.5" fill="#d9d9d9"/>
<rect x="459.48" y="231.67" width="46" height="0.5" fill="#d9d9d9"/>
<rect x="459.48" y="242.11" width="46" height="0.5" fill="#d9d9d9"/>
<rect x="459.48" y="252.55" width="46" height="0.5" fill="#d9d9d9"/>
<rect x="459.48" y="262.99" width="46" height="0.5" fill="#d9d9d9"/>
<rect x="459.48" y="273.43" width="46" height="0.5" fill="#d9d9d9"/>
<rect x="459.48" y="283.87" width="46" height="0.5" fill="#d9d9d9"/>
<rect x="459.48" y="294.31" width="46" height="0.5" fill="#d9d9d9"/>
<rect x="459.48" y="304.75" width="46" height="0.5" fill="#d9d9d9"/>
<rect x="459.48" y="315.19" width="46" height="0.5" fill="#d9d9d9"/>
<rect x="459.48" y="325.63" width="46" height="0.5" fill="#d9d9d9"/>
<rect x="459.48" y="336.07" width="46" height="0.5" fill="#d9d9d9"/>
<rect x="459.48" y="346.51" width="46" height="0.5" fill="#d9d9d9"/>
<rect x="459.48" y="356.95" width="46" height="0.5" fill="#d9d9d9"/>
<rect x="459.48" y="367.39" width="46" height="0.5" fill="#d9d9d9"/>
<rect x="459.48" y="377.83" width="46" height="0.5" fill="#d9d9d9"/>
<rect x="459.48" y="388.27" width="46" height="0.5" fill="#d9d9d9"/>
<rect x="459.48" y="398.71" width="46" height="0.5" fill="#d9d9d9"/>
<rect x="459.48" y="409.15" width="46" height="0.5" fill="#d9d9d9"/>
<rect x="459.48" y="419.59" width="46" height="0.5" fill="#d9d9d9"/>
<rect x="477.48" y="146.9" width="28" height="3" fill="url(#fw)"/>
<text class="w" x="505.28" y="153.55" fill="#732489" fill-opacity="0.47">40</text>
<rect x="477.48" y="219.98" width="28" height="3" fill="url(#fw)"/>
<text class="w" x="505.28" y="226.63" fill="#732489" fill-opacity="0.47">41</text>
<rect x="477.48" y="293.06" width="28" height="3" fill="url(#fw)"/>
<text class="w" x="505.28" y="299.71" fill="#732489" fill-opacity="0.47">42</text>
<rect x="477.48" y="366.14" width="28" height="3" fill="url(#fw)"/>
<text class="w" x="505.28" y="372.79" fill="#732489" fill-opacity="0.47">43</text>
<text class="l" transform="translate(464.18,104.6) scale(0.66,1)">S</text><text class="n" transform="translate(470.48,104.6) scale(0.63,1)" fill="#732489" stroke="#732489">1</text>
<text class="l" transform="translate(464.18,115.04) scale(0.66,1)">D</text><text class="n" transform="translate(470.48,115.04) scale(0.63,1)" fill="#e0213c" stroke="#e0213c">2</text>
<text class="l" transform="translate(464.18,125.48) scale(0.66,1)">L</text><text class="n" transform="translate(470.48,125.48) scale(0.63,1)" fill="#732489" stroke="#732489">3</text>
<text class="l" transform="translate(464.18,135.92) scale(0.66,1)">M</text><text class="n" transform="translate(470.48,135.92) scale(0.63,1)" fill="#732489" stroke="#732489">4</text>
<text class="l" transform="translate(464.18,146.36) scale(0.66,1)">M</text><text class="n" transform="translate(470.48,146.36) scale(0.63,1)" fill="#732489" stroke="#732489">5</text>
<text class="l" transform="translate(464.18,156.8) scale(0.66,1)">J</text><text class="n" transform="translate(470.48,156.8) scale(0.63,1)" fill="#732489" stroke="#732489">6</text>
<text class="l" transform="translate(464.18,167.24) scale(0.66,1)">V</text><text class="n" transform="translate(470.48,167.24) scale(0.63,1)" fill="#732489" stroke="#732489">7</text>
<text class="l" transform="translate(464.18,177.68) scale(0.66,1)">S</text><text class="n" transform="translate(470.48,177.68) scale(0.63,1)" fill="#732489" stroke="#732489">8</text>
<text class="l" transform="translate(464.18,188.12) scale(0.66,1)">D</text><text class="n" transform="translate(470.48,188.12) scale(0.63,1)" fill="#e0213c" stroke="#e0213c">9</text>
<text class="l" transform="translate(464.18,198.56) scale(0.66,1)">L</text><text class="n" transform="translate(470.48,198.56) scale(0.63,1)" fill="#732489" stroke="#732489">10</text>
<text class="l" transform="translate(464.18,209) scale(0.66,1)">M</text><text class="n" transform="translate(470.48,209) scale(0.63,1)" fill="#732489" stroke="#732489">11</text>
<text class="l" transform="translate(464.18,219.44) scale(0.66,1)">M</text><text class="n" transform="translate(470.48,219.44) scale(0.63,1)" fill="#732489" stroke="#732489">12</text>
<text class="l" transform="translate(464.18,229.88) scale(0.66,1)">J</text><text class="n" transform="translate(470.48,229.88) scale(0.63,1)" fill="#732489" stroke="#732489">13</text>
<text class="l" transform="translate(464.18,240.32) scale(0.66,1)">V</text><text class="n" transform="translate(470.48,240.32) scale(0.63,1)" fill="#732489" stroke="#732489">14</text>
<text class="l" transform="translate(464.18,250.76) scale(0.66,1)">S</text><text class="n" transform="translate(470.48,250.76) scale(0.63,1)" fill="#732489" stroke="#732489">15</text>
<text class="l" transform="translate(464.18,261.2) scale(0.66,1)">D</text><text class="n" transform="translate(470.48,261.2) scale(0.63,1)" fill="#e0213c" stroke="#e0213c">16</text>
<text class="l" transform="translate(464.18,271.64) scale(0.66,1)">L</text><text class="n" transform="translate(470.48,271.64) scale(0.63,1)" fill="#732489" stroke="#732489">17</text>
<text class="l" transform="translate(464.18,282.08) scale(0.66,1)">M</text><text class="n" transform="translate(470.48,282.08) scale(0.63,1)" fill="#732489" stroke="#732489">18</text>
<text class="l" transform="translate(464.18,292.52) scale(0.66,1)">M</text><text class="n" transform="translate(470.48,292.52) scale(0.63,1)" fill="#732489" stroke="#732489">19</text>
<text class="l" transform="translate(464.18,302.96) scale(0.66,1)">J</text><text class="n" transform="translate(470.48,302.96) scale(0.63,1)" fill="#732489" stroke="#732489">20</text>
<text class="l" transform="translate(464.18,313.4) scale(0.66,1)">V</text><text class="n" transform="translate(470.48,313.4) scale(0.63,1)" fill="#732489" stroke="#732489">21</text>
<text class="l" transform="translate(464.18,323.84) scale(0.66,1)">S</text><text class="n" transform="translate(470.48,323.84) scale(0.63,1)" fill="#732489" stroke="#732489">22</text>
<text class="l" transform="translate(464.18,334.28) scale(0.66,1)">D</text><text class="n" transform="translate(470.48,334.28) scale(0.63,1)" fill="#e0213c" stroke="#e0213c">23</text>
<text class="l" transform="translate(464.18,344.72) scale(0.66,1)">L</text><text class="n" transform="translate(470.48,344.72) scale(0.63,1)" fill="#732489" stroke="#732489">24</text>
<text class="l" transform="translate(464.18,355.16) scale(0.66,1)">M</text><text class="n" transform="translate(470.48,355.16) scale(0.63,1)" fill="#732489" stroke="#732489">25</text>
<text class="l" transform="translate(464.18,365.6) scale(0.66,1)">M</text><text class="n" transform="translate(470.48,365.6) scale(0.63,1)" fill="#732489" stroke="#732489">26</text>
<text class="l" transform="translate(464.18,376.04) scale(0.66,1)">J</text><text class="n" transform="translate(470.48,376.04) scale(0.63,1)" fill="#732489" stroke="#732489">27</text>
<text class="l" transform="translate(464.18,386.48) scale(0.66,1)">V</text><text class="n" transform="translate(470.48,386.48) scale(0.63,1)" fill="#732489" stroke="#732489">28</text>
<text class="l" transform="translate(464.18,396.92) scale(0.66,1)">S</text><text class="n" transform="translate(470.48,396.92) scale(0.63,1)" fill="#732489" stroke="#732489">29</text>
<text class="l" transform="translate(464.18,407.36) scale(0.66,1)">D</text><text class="n" transform="translate(470.48,407.36) scale(0.63,1)" fill="#e0213c" stroke="#e0213c">30</text>
<text class="l" transform="translate(464.18,417.8) scale(0.66,1)">L</text><text class="n" transform="translate(470.48,417.8) scale(0.63,1)" fill="#732489" stroke="#732489">31</text>
<path d="M459.48 420 H505.48 V421.2 A8 8 0 0 1 497.48 429.2 H467.48 A8 8 0 0 1 459.48 421.2 Z" fill="#732489"/>
</g>
<path d="M509.9 95.8 V89.4 A7 7 0 0 1 516.9 82.4 H548.9 A7 7 0 0 1 555.9 89.4 V95.8 Z" fill="#0d55a5"/>
<text class="h" transform="translate(532.9,92.7) scale(0.575,1)">NOVEMBRE</text>
<rect x="509.9" y="148.6" width="46" height="10.14" fill="#0d55a5" fill-opacity="0.35"/>
<rect x="509.9" y="221.68" width="46" height="10.14" fill="#0d55a5" fill-opacity="0.35"/>
<rect x="509.9" y="294.76" width="46" height="10.14" fill="#0d55a5" fill-opacity="0.35"/>
<rect x="509.9" y="367.84" width="46" height="10.14" fill="#0d55a5" fill-opacity="0.35"/>
<rect x="509.9" y="106.39" width="46" height="0.5" fill="#d9d9d9"/>
<rect x="509.9" y="116.83" width="46" height="0.5" fill="#d9d9d9"/>
<rect x="509.9" y="127.27" width="46" height="0.5" fill="#d9d9d9"/>
<rect x="509.9" y="137.71" width="46" height="0.5" fill="#d9d9d9"/>
<rect x="509.9" y="148.15" width="46" height="0.5" fill="#d9d9d9"/>
<rect x="509.9" y="158.59" width="46" height="0.5" fill="#d9d9d9"/>
<rect x="509.9" y="169.03" width="46" height="0.5" fill="#d9d9d9"/>
<rect x="509.9" y="179.47" width="46" height="0.5" fill="#d9d9d9"/>
<rect x="509.9" y="189.91" width="46" height="0.5" fill="#d9d9d9"/>
<rect x="509.9" y="200.35" width="46" height="0.5" fill="#d9d9d9"/>
<rect x="509.9" y="210.79" width="46" height="0.5" fill="#d9d9d9"/>
<rect x="509.9" y="221.23" width="46" height="0.5" fill="#d9d9d9"/>
<rect x="509.9" y="231.67" width="46" height="0.5" fill="#d9d9d9"/>
<rect x="509.9" y="242.11" width="46" height="0.5" fill="#d9d9d9"/>
<rect x="509.9" y="252.55" width="46" height="0.5" fill="#d9d9d9"/>
<rect x="509.9" y="262.99" width="46" height="0.5" fill="#d9d9d9"/>
<rect x="509.9" y="273.43" width="46" height="0.5" fill="#d9d9d9"/>
<rect x="509.9" y="283.87" width="46" height="0.5" fill="#d9d9d9"/>
<rect x="509.9" y="294.31" width="46" height="0.5" fill="#d9d9d9"/>
<rect x="509.9" y="304.75" width="46" height="0.5" fill="#d9d9d9"/>
<rect x="509.9" y="315.19" width="46" height="0.5" fill="#d9d9d9"/>
<rect x="509.9" y="325.63" width="46" height="0.5" fill="#d9d9d9"/>
<rect x="509.9" y="336.07" width="46" height="0.5" fill="#d9d9d9"/>
<rect x="509.9" y="346.51" width="46" height="0.5" fill="#d9d9d9"/>
<rect x="509.9" y="356.95" width="46" height="0.5" fill="#d9d9d9"/>
<rect x="509.9" y="367.39" width="46" height="0.5" fill="#d9d9d9"/>
<rect x="509.9" y="377.83" width="46" height="0.5" fill="#d9d9d9"/>
<rect x="509.9" y="388.27" width="46" height="0.5" fill="#d9d9d9"/>
<rect x="509.9" y="398.71" width="46" height="0.5" fill="#d9d9d9"/>
<rect x="509.9" y="409.15" width="46" height="0.5" fill="#d9d9d9"/>
<rect x="509.9" y="419.59" width="46" height="0.5" fill="#d9d9d9"/>
<rect x="527.9" y="115.58" width="28" height="3" fill="url(#fw)"/>
<text class="w" x="555.7" y="122.23" fill="#0d55a5" fill-opacity="0.47">44</text>
<rect x="527.9" y="188.66" width="28" height="3" fill="url(#fw)"/>
<text class="w" x="555.7" y="195.31" fill="#0d55a5" fill-opacity="0.47">45</text>
<rect x="527.9" y="261.74" width="28" height="3" fill="url(#fw)"/>
<text class="w" x="555.7" y="268.39" fill="#0d55a5" fill-opacity="0.47">46</text>
<rect x="527.9" y="334.82" width="28" height="3" fill="url(#fw)"/>
<text class="w" x="555.7" y="341.47" fill="#0d55a5" fill-opacity="0.47">47</text>
<rect x="527.9" y="397.46" width="28" height="3" fill="url(#fw)"/>
<text class="w" x="555.7" y="404.11" fill="#0d55a5" fill-opacity="0.47">48</text>
<text class="l" transform="translate(514.6,104.6) scale(0.66,1)">M</text><text class="n" transform="translate(520.9,104.6) scale(0.63,1)" fill="#0d55a5" stroke="#0d55a5">1</text>
<text class="l" transform="translate(514.6,115.04) scale(0.66,1)">M</text><text class="n" transform="translate(520.9,115.04) scale(0.63,1)" fill="#0d55a5" stroke="#0d55a5">2</text>
<text class="l" transform="translate(514.6,125.48) scale(0.66,1)">J</text><text class="n" transform="translate(520.9,125.48) scale(0.63,1)" fill="#0d55a5" stroke="#0d55a5">3</text>
<text class="l" transform="translate(514.6,135.92) scale(0.66,1)">V</text><text class="n" transform="translate(520.9,135.92) scale(0.63,1)" fill="#0d55a5" stroke="#0d55a5">4</text>
<text class="l" transform="translate(514.6,146.36) scale(0.66,1)">S</text><text class="n" transform="translate(520.9,146.36) scale(0.63,1)" fill="#0d55a5" stroke="#0d55a5">5</text>
<text class="l" transform="translate(514.6,156.8) scale(0.66,1)">D</text><text class="n" transform="translate(520.9,156.8) scale(0.63,1)" fill="#e0213c" stroke="#e0213c">6</text>
<text class="l" transform="translate(514.6,167.24) scale(0.66,1)">L</text><text class="n" transform="translate(520.9,167.24) scale(0.63,1)" fill="#0d55a5" stroke="#0d55a5">7</text>
<text class="l" transform="translate(514.6,177.68) scale(0.66,1)">M</text><text class="n" transform="translate(520.9,177.68) scale(0.63,1)" fill="#0d55a5" stroke="#0d55a5">8</text>
<text class="l" transform="translate(514.6,188.12) scale(0.66,1)">M</text><text class="n" transform="translate(520.9,188.12) scale(0.63,1)" fill="#0d55a5" stroke="#0d55a5">9</text>
<text class="l" transform="translate(514.6,198.56) scale(0.66,1)">J</text><text class="n" transform="translate(520.9,198.56) scale(0.63,1)" fill="#0d55a5" stroke="#0d55a5">10</text>
<text class="l" transform="translate(514.6,209) scale(0.66,1)">V</text><text class="n" transform="translate(520.9,209) scale(0.63,1)" fill="#0d55a5" stroke="#0d55a5">11</text>
<text class="l" transform="translate(514.6,219.44) scale(0.66,1)">S</text><text class="n" transform="translate(520.9,219.44) scale(0.63,1)" fill="#0d55a5" stroke="#0d55a5">12</text>
<text class="l" transform="translate(514.6,229.88) scale(0.66,1)">D</text><text class="n" transform="translate(520.9,229.88) scale(0.63,1)" fill="#e0213c" stroke="#e0213c">13</text>
<text class="l" transform="translate(514.6,240.32) scale(0.66,1)">L</text><text class="n" transform="translate(520.9,240.32) scale(0.63,1)" fill="#0d55a5" stroke="#0d55a5">14</text>
<text class="l" transform="translate(514.6,250.76) scale(0.66,1)">M</text><text class="n" transform="translate(520.9,250.76) scale(0.63,1)" fill="#0d55a5" stroke="#0d55a5">15</text>
<text class="l" transform="translate(514.6,261.2) scale(0.66,1)">M</text><text class="n" transform="translate(520.9,261.2) scale(0.63,1)" fill="#0d55a5" stroke="#0d55a5">16</text>
<text class="l" transform="translate(514.6,271.64) scale(0.66,1)">J</text><text class="n" transform="translate(520.9,271.64) scale(0.63,1)" fill="#0d55a5" stroke="#0d55a5">17</text>
<text class="l" transform="translate(514.6,282.08) scale(0.66,1)">V</text><text class="n" transform="translate(520.9,282.08) scale(0.63,1)" fill="#0d55a5" stroke="#0d55a5">18</text>
<text class="l" transform="translate(514.6,292.52) scale(0.66,1)">S</text><text class="n" transform="translate(520.9,292.52) scale(0.63,1)" fill="#0d55a5" stroke="#0d55a5">19</text>
<text class="l" transform="translate(514.6,302.96) scale(0.66,1)">D</text><text class="n" transform="translate(520.9,302.96) scale(0.63,1)" fill="#e0213c" stroke="#e0213c">20</text>
<text class="l" transform="translate(514.6,313.4) scale(0.66,1)">L</text><text class="n" transform="translate(520.9,313.4) scale(0.63,1)" fill="#0d55a5" stroke="#0d55a5">21</text>
<text class="l" transform="translate(514.6,323.84) scale(0.66,1)">M</text><text class="n" transform="translate(520.9,323.84) scale(0.63,1)" fill="#0d55a5" stroke="#0d55a5">22</text>
<text class="l" transform="translate(514.6,334.28) scale(0.66,1)">M</text><text class="n" transform="translate(520.9,334.28) scale(0.63,1)" fill="#0d55a5" stroke="#0d55a5">23</text>
<text class="l" transform="translate(514.6,344.72) scale(0.66,1)">J</text><text class="n" transform="translate(520.9,344.72) scale(0.63,1)" fill="#0d55a5" stroke="#0d55a5">24</text>
<text class="l" transform="translate(514.6,355.16) scale(0.66,1)">V</text><text class="n" transform="translate(520.9,355.16) scale(0.63,1)" fill="#0d55a5" stroke="#0d55a5">25</text>
<text class="l" transform="translate(514.6,365.6) scale(0.66,1)">S</text><text class="n" transform="translate(520.9,365.6) scale(0.63,1)" fill="#0d55a5" stroke="#0d55a5">26</text>
<text class="l" transform="translate(514.6,376.04) scale(0.66,1)">D</text><text class="n" transform="translate(520.9,376.04) scale(0.63,1)" fill="#e0213c" stroke="#e0213c">27</text>
<text class="l" transform="translate(514.6,386.48) scale(0.66,1)">L</text><text class="n" transform="translate(520.9,386.48) scale(0.63,1)" fill="#0d55a5" stroke="#0d55a5">28</text>
<text class="l" transform="translate(514.6,396.92) scale(0.66,1)">M</text><text class="n" transform="translate(520.9,396.92) scale(0.63,1)" fill="#0d55a5" stroke="#0d55a5">29</text>
<text class="l" transform="translate(514.6,407.36) scale(0.66,1)">M</text><text class="n" transform="translate(520.9,407.36) scale(0.63,1)" fill="#0d55a5" stroke="#0d55a5">30</text>
<path d="M509.9 420 H555.9 V421.2 A8 8 0 0 1 547.9 429.2 H517.9 A8 8 0 0 1 509.9 421.2 Z" fill="#0d55a5"/>
</g>
<path d="M560.32 95.8 V89.4 A7 7 0 0 1 567.32 82.4 H599.32 A7 7 0 0 1 606.32 89.4 V95.8 Z" fill="#1a8fd8"/>
<text class="h" transform="translate(583.32,92.7) scale(0.575,1)">DECEMBRE</text>
<rect x="560.32" y="127.72" width="46" height="10.14" fill="#1a8fd8" fill-opacity="0.35"/>
<rect x="560.32" y="200.8" width="46" height="10.14" fill="#1a8fd8" fill-opacity="0.35"/>
<rect x="560.32" y="273.88" width="46" height="10.14" fill="#1a8fd8" fill-opacity="0.35"/>
<rect x="560.32" y="346.96" width="46" height="10.14" fill="#1a8fd8" fill-opacity="0.35"/>
<rect x="560.32" y="106.39" width="46" height="0.5" fill="#d9d9d9"/>
<rect x="560.32" y="116.83" width="46" height="0.5" fill="#d9d9d9"/>
<rect x="560.32" y="127.27" width="46" height="0.5" fill="#d9d9d9"/>
<rect x="560.32" y="137.71" width="46" height="0.5" fill="#d9d9d9"/>
<rect x="560.32" y="148.15" width="46" height="0.5" fill="#d9d9d9"/>
<rect x="560.32" y="158.59" width="46" height="0.5" fill="#d9d9d9"/>
<rect x="560.32" y="169.03" width="46" height="0.5" fill="#d9d9d9"/>
<rect x="560.32" y="179.47" width="46" height="0.5" fill="#d9d9d9"/>
<rect x="560.32" y="189.91" width="46" height="0.5" fill="#d9d9d9"/>
<rect x="560.32" y="200.35" width="46" height="0.5" fill="#d9d9d9"/>
<rect x="560.32" y="210.79" width="46" height="0.5" fill="#d9d9d9"/>
<rect x="560.32" y="221.23" width="46" height="0.5" fill="#d9d9d9"/>
<rect x="560.32" y="231.67" width="46" height="0.5" fill="#d9d9d9"/>
<rect x="560.32" y="242.11" width="46" height="0.5" fill="#d9d9d9"/>
<rect x="560.32" y="252.55" width="46" height="0.5" fill="#d9d9d9"/>
<rect x="560.32" y="262.99" width="46" height="0.5" fill="#d9d9d9"/>
<rect x="560.32" y="273.43" width="46" height="0.5" fill="#d9d9d9"/>
<rect x="560.32" y="283.87" width="46" height="0.5" fill="#d9d9d9"/>
<rect x="560.32" y="294.31" width="46" height="0.5" fill="#d9d9d9"/>
<rect x="560.32" y="304.75" width="46" height="0.5" fill="#d9d9d9"/>
<rect x="560.32" y="315.19" width="46" height="0.5" fill="#d9d9d9"/>
<rect x="560.32" y="325.63" width="46" height="0.5" fill="#d9d9d9"/>
<rect x="560.32" y="336.07" width="46" height="0.5" fill="#d9d9d9"/>
<rect x="560.32" y="346.51" width="46" height="0.5" fill="#d9d9d9"/>
<rect x="560.32" y="356.95" width="46" height="0.5" fill="#d9d9d9"/>
<rect x="560.32" y="367.39" width="46" height="0.5" fill="#d9d9d9"/>
<rect x="560.32" y="377.83" width="46" height="0.5" fill="#d9d9d9"/>
<rect x="560.32" y="388.27" width="46" height="0.5" fill="#d9d9d9"/>
<rect x="560.32" y="398.71" width="46" height="0.5" fill="#d9d9d9"/>
<rect x="560.32" y="409.15" width="46" height="0.5" fill="#d9d9d9"/>
<rect x="560.32" y="419.59" width="46" height="0.5" fill="#d9d9d9"/>
<rect x="578.32" y="105.14" width="28" height="3" fill="url(#fw)"/>
<text class="w" x="606.12" y="111.79" fill="#1a8fd8" fill-opacity="0.47">48</text>
<rect x="578.32" y="167.78" width="28" height="3" fill="url(#fw)"/>
<text class="w" x="606.12" y="174.43" fill="#1a8fd8" fill-opacity="0.47">49</text>
<rect x="578.32" y="240.86" width="28" height="3" fill="url(#fw)"/>
<text class="w" x="606.12" y="247.51" fill="#1a8fd8" fill-opacity="0.47">50</text>
<rect x="578.32" y="313.94" width="28" height="3" fill="url(#fw)"/>
<text class="w" x="606.12" y="320.59" fill="#1a8fd8" fill-opacity="0.47">51</text>
<rect x="578.32" y="387.02" width="28" height="3" fill="url(#fw)"/>
<text class="w" x="606.12" y="393.67" fill="#1a8fd8" fill-opacity="0.47">52</text>
<text class="l" transform="translate(565.02,104.6) scale(0.66,1)">J</text><text class="n" transform="translate(571.32,104.6) scale(0.63,1)" fill="#1a8fd8" stroke="#1a8fd8">1</text>
<text class="l" transform="translate(565.02,115.04) scale(0.66,1)">V</text><text class="n" transform="translate(571.32,115.04) scale(0.63,1)" fill="#1a8fd8" stroke="#1a8fd8">2</text>
<text class="l" transform="translate(565.02,125.48) scale(0.66,1)">S</text><text class="n" transform="translate(571.32,125.48) scale(0.63,1)" fill="#1a8fd8" stroke="#1a8fd8">3</text>
<text class="l" transform="translate(565.02,135.92) scale(0.66,1)">D</text><text class="n" transform="translate(571.32,135.92) scale(0.63,1)" fill="#e0213c" stroke="#e0213c">4</text>
<text class="l" transform="translate(565.02,146.36) scale(0.66,1)">L</text><text class="n" transform="translate(571.32,146.36) scale(0.63,1)" fill="#1a8fd8" stroke="#1a8fd8">5</text>
<text class="l" transform="translate(565.02,156.8) scale(0.66,1)">M</text><text class="n" transform="translate(571.32,156.8) scale(0.63,1)" fill="#1a8fd8" stroke="#1a8fd8">6</text>
<text class="l" transform="translate(565.02,167.24) scale(0.66,1)">M</text><text class="n" transform="translate(571.32,167.24) scale(0.63,1)" fill="#1a8fd8" stroke="#1a8fd8">7</text>
<text class="l" transform="translate(565.02,177.68) scale(0.66,1)">J</text><text class="n" transform="translate(571.32,177.68) scale(0.63,1)" fill="#1a8fd8" stroke="#1a8fd8">8</text>
<text class="l" transform="translate(565.02,188.12) scale(0.66,1)">V</text><text class="n" transform="translate(571.32,188.12) scale(0.63,1)" fill="#1a8fd8" stroke="#1a8fd8">9</text>
<text class="l" transform="translate(565.02,198.56) scale(0.66,1)">S</text><text class="n" transform="translate(571.32,198.56) scale(0.63,1)" fill="#1a8fd8" stroke="#1a8fd8">10</text>
<text class="l" transform="translate(565.02,209) scale(0.66,1)">D</text><text class="n" transform="translate(571.32,209) scale(0.63,1)" fill="#e0213c" stroke="#e0213c">11</text>
<text class="l" transform="translate(565.02,219.44) scale(0.66,1)">L</text><text class="n" transform="translate(571.32,219.44) scale(0.63,1)" fill="#1a8fd8" stroke="#1a8fd8">12</text>
<text class="l" transform="translate(565.02,229.88) scale(0.66,1)">M</text><text class="n" transform="translate(571.32,229.88) scale(0.63,1)" fill="#1a8fd8" stroke="#1a8fd8">13</text>
<text class="l" transform="translate(565.02,240.32) scale(0.66,1)">M</text><text class="n" transform="translate(571.32,240.32) scale(0.63,1)" fill="#1a8fd8" stroke="#1a8fd8">14</text>
<text class="l" transform="translate(565.02,250.76) scale(0.66,1)">J</text><text class="n" transform="translate(571.32,250.76) scale(0.63,1)" fill="#1a8fd8" stroke="#1a8fd8">15</text>
<text class="l" transform="translate(565.02,261.2) scale(0.66,1)">V</text><text class="n" transform="translate(571.32,261.2) scale(0.63,1)" fill="#1a8fd8" stroke="#1a8fd8">16</text>
<text class="l" transform="translate(565.02,271.64) scale(0.66,1)">S</text><text class="n" transform="translate(571.32,271.64) scale(0.63,1)" fill="#1a8fd8" stroke="#1a8fd8">17</text>
<text class="l" transform="translate(565.02,282.08) scale(0.66,1)">D</text><text class="n" transform="translate(571.32,282.08) scale(0.63,1)" fill="#e0213c" stroke="#e0213c">18</text>
<text class="l" transform="translate(565.02,292.52) scale(0.66,1)">L</text><text class="n" transform="translate(571.32,292.52) scale(0.63,1)" fill="#1a8fd8" stroke="#1a8fd8">19</text>
<text class="l" transform="translate(565.02,302.96) scale(0.66,1)">M</text><text class="n" transform="translate(571.32,302.96) scale(0.63,1)" fill="#1a8fd8" stroke="#1a8fd8">20</text>
<text class="l" transform="translate(565.02,313.4) scale(0.66,1)">M</text><text class="n" transform="translate(571.32,313.4) scale(0.63,1)" fill="#1a8fd8" stroke="#1a8fd8">21</text>
<text class="l" transform="translate(565.02,323.84) scale(0.66,1)">J</text><text class="n" transform="translate(571.32,323.84) scale(0.63,1)" fill="#1a8fd8" stroke="#1a8fd8">22</text>
<text class="l" transform="translate(565.02,334.28) scale(0.66,1)">V</text><text class="n" transform="translate(571.32,334.28) scale(0.63,1)" fill="#1a8fd8" stroke="#1a8fd8">23</text>
<text class="l" transform="translate(565.02,344.72) scale(0.66,1)">S</text><text class="n" transform="translate(571.32,344.72) scale(0.63,1)" fill="#1a8fd8" stroke="#1a8fd8">24</text>
<text class="l" transform="translate(565.02,355.16) scale(0.66,1)">D</text><text class="n" transform="translate(571.32,355.16) scale(0.63,1)" fill="#e0213c" stroke="#e0213c">25</text>
<text class="l" transform="translate(565.02,365.6) scale(0.66,1)">L</text><text class="n" transform="translate(571.32,365.6) scale(0.63,1)" fill="#1a8fd8" stroke="#1a8fd8">26</text>
<text class="l" transform="translate(565.02,376.04) scale(0.66,1)">M</text><text class="n" transform="translate(571.32,376.04) scale(0.63,1)" fill="#1a8fd8" stroke="#1a8fd8">27</text>
<text class="l" transform="translate(565.02,386.48) scale(0.66,1)">M</text><text class="n" transform="translate(571.32,386.48) scale(0.63,1)" fill="#1a8fd8" stroke="#1a8fd8">28</text>
<text class="l" transform="translate(565.02,396.92) scale(0.66,1)">J</text><text class="n" transform="translate(571.32,396.92) scale(0.63,1)" fill="#1a8fd8" stroke="#1a8fd8">29</text>
<text class="l" transform="translate(565.02,407.36) scale(0.66,1)">V</text><text class="n" transform="translate(571.32,407.36) scale(0.63,1)" fill="#1a8fd8" stroke="#1a8fd8">30</text>
<text class="l" transform="translate(565.02,417.8) scale(0.66,1)">S</text><text class="n" transform="translate(571.32,417.8) scale(0.63,1)" fill="#1a8fd8" stroke="#1a8fd8">31</text>
<path d="M560.32 420 H606.32 V421.2 A8 8 0 0 1 598.32 429.2 H568.32 A8 8 0 0 1 560.32 421.2 Z" fill="#1a8fd8"/>
</g>
</svg>
</body></html>
